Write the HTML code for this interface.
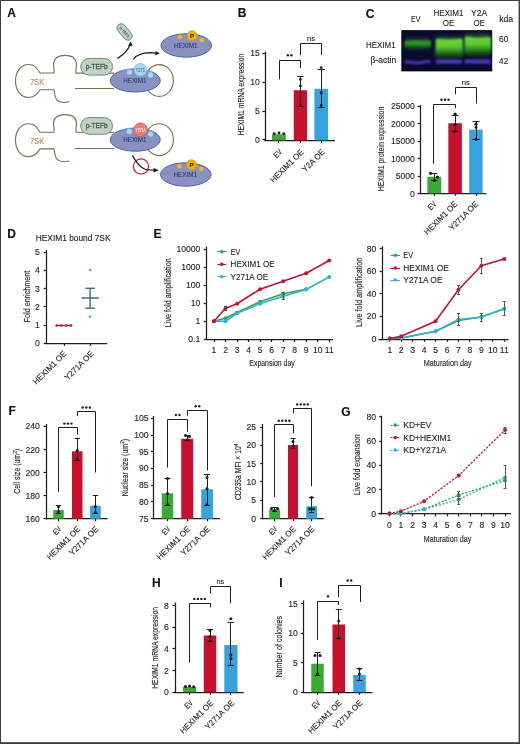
<!DOCTYPE html>
<html><head><meta charset="utf-8"><style>
html,body{margin:0;padding:0;background:#fff;}
svg{display:block;will-change:transform;}
text{font-family:"Liberation Sans", sans-serif;}
</style></head><body>
<svg width="520" height="744" viewBox="0 0 520 744">
<rect x="0" y="0" width="520" height="744" fill="#fff"/>
<rect x="0" y="0" width="520" height="1" fill="#3c3c3c"/>
<rect x="0" y="0" width="1" height="744" fill="#3c3c3c"/>
<rect x="518.6" y="0" width="1.4" height="744" fill="#3c3c3c"/>
<rect x="0" y="742.2" width="520" height="1.8" fill="#3c3c3c"/>
<text x="7.30" y="16.90" font-size="12.0" text-anchor="start" fill="#111" stroke="#111" stroke-width="0.12" font-weight="bold">A</text>
<path d="M40,73 C36,66 33,64.5 28.5,64.5 C20.5,64.5 15.5,72 15.5,81 C15.5,90 20.5,97.5 28.5,97.5 C33,97.5 36.5,95.5 40,89.7 L54,89.7 C55,93.5 54.5,98 57.5,100.5 C60.5,103 65,102.8 69.5,101.8" stroke="#7f6a55" stroke-width="1.1" fill="none"/>
<path d="M40,73 L54,73 C54.6,70 53.2,67 53.6,63 C54.4,57.5 59,55.4 65,55.4 C71,55.4 75.6,57.5 76.4,63 C76.8,67 75.4,70 76,73.1 L114,73.1" stroke="#7f6a55" stroke-width="1.1" fill="none"/>
<line x1="75.00" y1="88.50" x2="114.00" y2="88.50" stroke="#7f6a55" stroke-width="1.1"/>
<ellipse cx="159.20" cy="80.50" rx="14.20" ry="15.90" fill="none" stroke="#7f6a55" stroke-width="1.1"/>
<text x="29.90" y="84.90" font-size="8.6" text-anchor="start" fill="#c48a55" stroke="#c48a55" stroke-width="0.12" textLength="14.30" lengthAdjust="spacingAndGlyphs">7SK</text>
<rect x="80.70" y="58.40" width="31.80" height="16.70" fill="#c0d3c3" stroke="#6f8a78" stroke-width="1.0" rx="8.35"/>
<text x="96.70" y="68.90" font-size="7.2" text-anchor="middle" fill="#44544a" stroke="#44544a" stroke-width="0.28" textLength="22.00" lengthAdjust="spacingAndGlyphs">p-TEFb</text>
<ellipse cx="135.25" cy="80.50" rx="25.00" ry="11.55" fill="#8792c3" stroke="#56639d" stroke-width="1.0"/>
<path d="M121.50,70.90 Q135.25,66.00 153.00,72.30" stroke="#6ab4e4" stroke-width="1.1" fill="none" opacity="0.8"/>
<text x="134.90" y="82.70" font-size="6.4" text-anchor="middle" fill="#2c3262" stroke="#2c3262" stroke-width="0.06" textLength="23.40" lengthAdjust="spacingAndGlyphs">HEXIM1</text>
<circle cx="129.40" cy="72.20" r="2.60" fill="#a8d6f2" stroke="none" stroke-width="0"/>
<circle cx="150.60" cy="74.90" r="2.60" fill="#a8d6f2" stroke="none" stroke-width="0"/>
<circle cx="140.40" cy="69.80" r="6.30" fill="#a9d7f3" stroke="#74bde9" stroke-width="0.8"/>
<text x="140.40" y="71.50" font-size="4.8" text-anchor="middle" fill="#2f5f95" stroke="#2f5f95" stroke-width="0.05" textLength="9.40" lengthAdjust="spacingAndGlyphs">Y271</text>
<path d="M40,132.2 C36,125.2 33,123.7 28.5,123.7 C20.5,123.7 15.5,131.2 15.5,140.2 C15.5,149.2 20.5,156.7 28.5,156.7 C33,156.7 36.5,154.7 40,148.9 L54,148.9 C55,152.7 54.5,157.2 57.5,159.7 C60.5,162.2 65,162.0 69.5,161.0" stroke="#7f6a55" stroke-width="1.1" fill="none"/>
<path d="M40,132.2 L54,132.2 C54.6,129.2 53.2,126.2 53.6,122.2 C54.4,116.7 59,114.6 65,114.6 C71,114.6 75.6,116.7 76.4,122.2 C76.8,126.2 75.4,129.2 76,132.3 L114,132.3" stroke="#7f6a55" stroke-width="1.1" fill="none"/>
<line x1="75.00" y1="148.50" x2="114.00" y2="148.50" stroke="#7f6a55" stroke-width="1.1"/>
<ellipse cx="159.20" cy="139.70" rx="14.20" ry="15.90" fill="none" stroke="#7f6a55" stroke-width="1.1"/>
<text x="29.90" y="143.60" font-size="8.6" text-anchor="start" fill="#c48a55" stroke="#c48a55" stroke-width="0.12" textLength="14.30" lengthAdjust="spacingAndGlyphs">7SK</text>
<rect x="80.70" y="117.60" width="31.80" height="16.70" fill="#c0d3c3" stroke="#6f8a78" stroke-width="1.0" rx="8.35"/>
<text x="96.70" y="128.10" font-size="7.2" text-anchor="middle" fill="#44544a" stroke="#44544a" stroke-width="0.28" textLength="22.00" lengthAdjust="spacingAndGlyphs">p-TEFb</text>
<ellipse cx="135.25" cy="139.70" rx="25.00" ry="11.55" fill="#8792c3" stroke="#56639d" stroke-width="1.0"/>
<path d="M121.50,130.10 Q135.25,125.20 153.00,131.50" stroke="#6ab4e4" stroke-width="1.1" fill="none" opacity="0.8"/>
<text x="134.90" y="141.90" font-size="6.4" text-anchor="middle" fill="#2c3262" stroke="#2c3262" stroke-width="0.06" textLength="23.40" lengthAdjust="spacingAndGlyphs">HEXIM1</text>
<circle cx="129.40" cy="131.40" r="2.60" fill="#a8d6f2" stroke="none" stroke-width="0"/>
<circle cx="150.60" cy="134.10" r="2.60" fill="#a8d6f2" stroke="none" stroke-width="0"/>
<circle cx="140.60" cy="129.80" r="6.90" fill="#e97f72" stroke="#c85a50" stroke-width="0.8"/>
<text x="140.60" y="131.50" font-size="4.6" text-anchor="middle" fill="#ffe6e2" stroke="#ffe6e2" stroke-width="0.15" textLength="10.40" lengthAdjust="spacingAndGlyphs">Y271A</text>
<ellipse cx="186.30" cy="45.45" rx="25.30" ry="11.70" fill="#8792c3" stroke="#56639d" stroke-width="1.0"/>
<text x="185.70" y="47.70" font-size="6.4" text-anchor="middle" fill="#2c3262" stroke="#2c3262" stroke-width="0.06" textLength="23.60" lengthAdjust="spacingAndGlyphs">HEXIM1</text>
<circle cx="180.00" cy="37.20" r="2.40" fill="#f3b51a" stroke="none" stroke-width="0"/>
<circle cx="201.90" cy="40.10" r="2.40" fill="#f3b51a" stroke="none" stroke-width="0"/>
<circle cx="192.00" cy="35.80" r="5.00" fill="#f2b400" stroke="#d99b00" stroke-width="0.8"/>
<text x="192.00" y="38.05" font-size="6.2" text-anchor="middle" fill="#3a2a00" stroke="#3a2a00" stroke-width="0.12" font-weight="bold">P</text>
<ellipse cx="185.80" cy="174.45" rx="25.30" ry="11.70" fill="#8792c3" stroke="#56639d" stroke-width="1.0"/>
<text x="185.20" y="176.70" font-size="6.4" text-anchor="middle" fill="#2c3262" stroke="#2c3262" stroke-width="0.06" textLength="23.60" lengthAdjust="spacingAndGlyphs">HEXIM1</text>
<circle cx="179.50" cy="166.20" r="2.40" fill="#f3b51a" stroke="none" stroke-width="0"/>
<circle cx="201.40" cy="169.10" r="2.40" fill="#f3b51a" stroke="none" stroke-width="0"/>
<circle cx="191.50" cy="164.80" r="5.00" fill="#f2b400" stroke="#d99b00" stroke-width="0.8"/>
<text x="191.50" y="167.05" font-size="6.2" text-anchor="middle" fill="#3a2a00" stroke="#3a2a00" stroke-width="0.12" font-weight="bold">P</text>
<g transform="translate(124.6 32.0) rotate(50)"><rect x="-9.4" y="-4.3" width="18.8" height="8.6" rx="4.3" fill="#c0d3c3" stroke="#62806c" stroke-width="0.9"/><text x="0" y="1.5" font-size="4.2" text-anchor="middle" fill="#3f4f45" font-weight="bold" textLength="13" lengthAdjust="spacingAndGlyphs">p-TEFb</text></g>
<path d="M117.3,58.4 C122,55.5 127.5,52 129.6,45.5" stroke="#1a1a1a" stroke-width="1.2" fill="none"/>
<polygon points="130.8,41.6 128.0,45.8 132.6,46.0" fill="#1a1a1a"/>
<path d="M133.2,59.3 C136,55.5 141,53 150,52.7 L156,53.1" stroke="#1a1a1a" stroke-width="1.2" fill="none"/>
<polygon points="159.8,53.3 155.4,51.0 155.4,55.4" fill="#1a1a1a"/>
<circle cx="141.00" cy="166.50" r="7.60" fill="none" stroke="#c8243c" stroke-width="1.3"/>
<path d="M132.3,155.4 C135.5,161 139,166 143.5,168.6 C145.5,169.8 147.5,170.2 154,170.2" stroke="#1a1a1a" stroke-width="1.2" fill="none"/>
<polygon points="158.8,170.2 153.6,167.9 153.6,172.6" fill="#1a1a1a"/>
<text x="237.80" y="17.20" font-size="12.0" text-anchor="start" fill="#111" stroke="#111" stroke-width="0.12" font-weight="bold">B</text>
<line x1="265.50" y1="51.50" x2="265.50" y2="140.93" stroke="#1e1e1e" stroke-width="1.25"/>
<line x1="262.40" y1="53.50" x2="265.00" y2="53.50" stroke="#1e1e1e" stroke-width="1.25"/>
<text x="259.90" y="56.25" font-size="8.6" text-anchor="end" fill="#1e1e1e" stroke="#1e1e1e" stroke-width="0.12">15</text>
<line x1="262.40" y1="82.50" x2="265.00" y2="82.50" stroke="#1e1e1e" stroke-width="1.25"/>
<text x="259.90" y="85.15" font-size="8.6" text-anchor="end" fill="#1e1e1e" stroke="#1e1e1e" stroke-width="0.12">10</text>
<line x1="262.40" y1="111.50" x2="265.00" y2="111.50" stroke="#1e1e1e" stroke-width="1.25"/>
<text x="259.90" y="114.05" font-size="8.6" text-anchor="end" fill="#1e1e1e" stroke="#1e1e1e" stroke-width="0.12">5</text>
<line x1="262.40" y1="139.50" x2="265.00" y2="139.50" stroke="#1e1e1e" stroke-width="1.25"/>
<text x="259.90" y="142.95" font-size="8.6" text-anchor="end" fill="#1e1e1e" stroke="#1e1e1e" stroke-width="0.12">0</text>
<line x1="264.38" y1="140.50" x2="335.00" y2="140.50" stroke="#1e1e1e" stroke-width="1.25"/>
<line x1="278.50" y1="140.30" x2="278.50" y2="142.90" stroke="#1e1e1e" stroke-width="1.25"/>
<line x1="300.50" y1="140.30" x2="300.50" y2="142.90" stroke="#1e1e1e" stroke-width="1.25"/>
<line x1="321.50" y1="140.30" x2="321.50" y2="142.90" stroke="#1e1e1e" stroke-width="1.25"/>
<rect x="272.00" y="134.20" width="13.80" height="6.10" fill="#3aa935" stroke="none" stroke-width="0" rx="0"/>
<rect x="293.75" y="90.20" width="13.30" height="50.10" fill="#c8102e" stroke="none" stroke-width="0" rx="0"/>
<rect x="314.40" y="88.80" width="13.60" height="51.50" fill="#35a3dc" stroke="none" stroke-width="0" rx="0"/>
<circle cx="274.20" cy="133.60" r="1.40" fill="#1e1e1e" stroke="none" stroke-width="0"/>
<circle cx="279.00" cy="132.90" r="1.40" fill="#1e1e1e" stroke="none" stroke-width="0"/>
<circle cx="283.80" cy="133.60" r="1.40" fill="#1e1e1e" stroke="none" stroke-width="0"/>
<line x1="300.50" y1="76.70" x2="300.50" y2="106.30" stroke="#1e1e1e" stroke-width="1.0"/>
<line x1="297.30" y1="76.50" x2="303.50" y2="76.50" stroke="#1e1e1e" stroke-width="1.0"/>
<line x1="297.30" y1="106.50" x2="303.50" y2="106.50" stroke="#1e1e1e" stroke-width="1.0"/>
<circle cx="300.40" cy="79.40" r="1.40" fill="#1e1e1e" stroke="none" stroke-width="0"/>
<circle cx="300.40" cy="85.90" r="1.40" fill="#1e1e1e" stroke="none" stroke-width="0"/>
<circle cx="300.40" cy="105.50" r="1.40" fill="#1e1e1e" stroke="none" stroke-width="0"/>
<line x1="321.50" y1="69.30" x2="321.50" y2="107.70" stroke="#1e1e1e" stroke-width="1.0"/>
<line x1="317.45" y1="69.50" x2="324.95" y2="69.50" stroke="#1e1e1e" stroke-width="1.0"/>
<line x1="317.45" y1="107.50" x2="324.95" y2="107.50" stroke="#1e1e1e" stroke-width="1.0"/>
<circle cx="321.20" cy="67.60" r="1.40" fill="#1e1e1e" stroke="none" stroke-width="0"/>
<circle cx="321.20" cy="92.90" r="1.40" fill="#1e1e1e" stroke="none" stroke-width="0"/>
<circle cx="321.20" cy="105.50" r="1.40" fill="#1e1e1e" stroke="none" stroke-width="0"/>
<path d="M279.50,79.40 L279.50,60.50 L300.50,60.50 L300.50,68.00" stroke="#1e1e1e" stroke-width="1.0" fill="none"/>
<path d="M300.50,55.20 L300.50,43.50 L321.50,43.50 L321.50,55.20" stroke="#1e1e1e" stroke-width="1.0" fill="none"/>
<circle cx="287.83" cy="55.30" r="1.22" fill="#222"/>
<circle cx="291.38" cy="55.30" r="1.22" fill="#222"/>
<text x="311.00" y="41.10" font-size="7.8" text-anchor="middle" fill="#1e1e1e" stroke="#1e1e1e" stroke-width="0.12" textLength="8.10" lengthAdjust="spacingAndGlyphs">ns</text>
<text x="244.40" y="94.60" font-size="8.4" text-anchor="middle" fill="#1e1e1e" stroke="#1e1e1e" stroke-width="0.12" textLength="81.80" lengthAdjust="spacingAndGlyphs" transform="rotate(-90 244.40 94.60)">HEXIM1 mRNA expression</text>
<text x="282.60" y="152.60" font-size="8.2" text-anchor="end" fill="#1e1e1e" stroke="#1e1e1e" stroke-width="0.12" textLength="8.20" lengthAdjust="spacingAndGlyphs" transform="rotate(-45 282.60 152.60)">EV</text>
<text x="304.20" y="152.60" font-size="8.2" text-anchor="end" fill="#1e1e1e" stroke="#1e1e1e" stroke-width="0.12" textLength="43.50" lengthAdjust="spacingAndGlyphs" transform="rotate(-45 304.20 152.60)">HEXIM1 OE</text>
<text x="325.30" y="152.60" font-size="8.2" text-anchor="end" fill="#1e1e1e" stroke="#1e1e1e" stroke-width="0.12" textLength="28.20" lengthAdjust="spacingAndGlyphs" transform="rotate(-45 325.30 152.60)">Y2A OE</text>
<text x="365.80" y="17.60" font-size="12.0" text-anchor="start" fill="#111" stroke="#111" stroke-width="0.12" font-weight="bold">C</text>
<text x="415.70" y="21.90" font-size="9.0" text-anchor="middle" fill="#1e1e1e" stroke="#1e1e1e" stroke-width="0.12" textLength="9.20" lengthAdjust="spacingAndGlyphs">EV</text>
<text x="448.50" y="16.20" font-size="8.9" text-anchor="middle" fill="#1e1e1e" stroke="#1e1e1e" stroke-width="0.12" textLength="30.00" lengthAdjust="spacingAndGlyphs">HEXIM1</text>
<text x="448.45" y="25.80" font-size="8.9" text-anchor="middle" fill="#1e1e1e" stroke="#1e1e1e" stroke-width="0.12" textLength="11.50" lengthAdjust="spacingAndGlyphs">OE</text>
<text x="479.15" y="16.20" font-size="8.9" text-anchor="middle" fill="#1e1e1e" stroke="#1e1e1e" stroke-width="0.12" textLength="16.10" lengthAdjust="spacingAndGlyphs">Y2A</text>
<text x="479.15" y="25.80" font-size="8.9" text-anchor="middle" fill="#1e1e1e" stroke="#1e1e1e" stroke-width="0.12" textLength="11.50" lengthAdjust="spacingAndGlyphs">OE</text>
<text x="506.15" y="21.90" font-size="8.9" text-anchor="middle" fill="#1e1e1e" stroke="#1e1e1e" stroke-width="0.12" textLength="13.90" lengthAdjust="spacingAndGlyphs">kda</text>
<text x="395.60" y="47.80" font-size="8.5" text-anchor="end" fill="#1e1e1e" stroke="#1e1e1e" stroke-width="0.12" textLength="29.60" lengthAdjust="spacingAndGlyphs">HEXIM1</text>
<text x="396.10" y="62.50" font-size="8.6" text-anchor="end" fill="#1e1e1e" stroke="#1e1e1e" stroke-width="0.12" textLength="25.60" lengthAdjust="spacingAndGlyphs">β-actin</text>
<text x="503.70" y="41.80" font-size="8.6" text-anchor="middle" fill="#1e1e1e" stroke="#1e1e1e" stroke-width="0.12" textLength="9.20" lengthAdjust="spacingAndGlyphs">60</text>
<text x="503.70" y="63.70" font-size="8.6" text-anchor="middle" fill="#1e1e1e" stroke="#1e1e1e" stroke-width="0.12" textLength="9.20" lengthAdjust="spacingAndGlyphs">42</text>
<defs>
<filter id="blur1" x="-30%" y="-60%" width="160%" height="220%"><feGaussianBlur stdDeviation="1.1"/></filter>
<filter id="blur3" x="-30%" y="-80%" width="160%" height="260%"><feGaussianBlur stdDeviation="2.2"/></filter>
<filter id="blur2" x="-20%" y="-80%" width="140%" height="260%"><feGaussianBlur stdDeviation="0.8"/></filter>
<linearGradient id="gOE" x1="0" y1="0" x2="0" y2="1">
<stop offset="0" stop-color="#6cd840"/><stop offset="0.45" stop-color="#5cc632"/><stop offset="0.72" stop-color="#2f8a1e"/><stop offset="1" stop-color="#0e2a10"/></linearGradient>
<linearGradient id="gEV" x1="0" y1="0" x2="0" y2="1">
<stop offset="0" stop-color="#3c9e34"/><stop offset="0.55" stop-color="#2b8a2a"/><stop offset="1" stop-color="#123e16"/></linearGradient>
</defs>
<rect x="401.60" y="30.10" width="90.60" height="41.10" fill="#0a0a2e" stroke="none" stroke-width="0" rx="0"/>
<rect x="401.60" y="70.20" width="90.60" height="1.00" fill="#020208" stroke="none" stroke-width="0" rx="0"/>
<rect x="401.60" y="30.10" width="0.90" height="41.10" fill="#020208" stroke="none" stroke-width="0" rx="0"/>
<g filter="url(#blur3)" opacity="0.55">
<rect x="405.50" y="38.50" width="24.50" height="10.50" fill="#2a7a22" stroke="none" stroke-width="0" rx="0"/>
<rect x="436.00" y="37.00" width="26.50" height="20.00" fill="#3c9a28" stroke="none" stroke-width="0" rx="0"/>
<rect x="465.00" y="34.50" width="25.50" height="20.00" fill="#3c9a28" stroke="none" stroke-width="0" rx="0"/>
</g>
<g filter="url(#blur1)">
<path d="M404.8,41.0 C412,39.8 422,40.8 430.6,40.8 L430.6,47.6 C422,48.2 412,47.6 404.8,47.2 Z" stroke="none" stroke-width="0" fill="url(#gEV)"/>
<path d="M435.9,40.0 Q435.9,38.8 437.6,38.8 C443,39.6 455,39.6 460.8,38.8 Q462.6,38.8 462.6,40.0 L462.6,56.4 L435.9,56.4 Z" stroke="none" stroke-width="0" fill="url(#gOE)"/>
<path d="M464.9,37.6 Q464.9,36.2 466.6,36.4 C472,38.0 484,38.0 489.0,37.0 Q490.8,37.0 490.8,38.6 L490.8,54.6 L464.9,54.6 Z" stroke="none" stroke-width="0" fill="url(#gOE)"/>
</g>
<g filter="url(#blur2)">
<path d="M404.8,60.3 C410,59.8 414,61.8 419,61.6 C423,61.4 426,59.2 430.6,60.4 L430.6,63.0 C426,62.2 423,64.2 418,64.2 C413,64.2 409,62.8 404.8,63.4 Z" stroke="none" stroke-width="0" fill="#4c3cc0"/>
<rect x="436.00" y="59.70" width="26.20" height="3.80" fill="#4c3cc0" stroke="none" stroke-width="0" rx="1.2"/>
<rect x="464.50" y="59.60" width="26.00" height="3.80" fill="#4c3cc0" stroke="none" stroke-width="0" rx="1.2"/>
</g>
<line x1="420.50" y1="105.00" x2="420.50" y2="193.93" stroke="#1e1e1e" stroke-width="1.25"/>
<line x1="417.60" y1="106.50" x2="420.20" y2="106.50" stroke="#1e1e1e" stroke-width="1.25"/>
<text x="414.90" y="109.13" font-size="8.6" text-anchor="end" fill="#1e1e1e" stroke="#1e1e1e" stroke-width="0.12">25000</text>
<line x1="417.60" y1="123.50" x2="420.20" y2="123.50" stroke="#1e1e1e" stroke-width="1.25"/>
<text x="414.90" y="126.61" font-size="8.6" text-anchor="end" fill="#1e1e1e" stroke="#1e1e1e" stroke-width="0.12">20000</text>
<line x1="417.60" y1="141.50" x2="420.20" y2="141.50" stroke="#1e1e1e" stroke-width="1.25"/>
<text x="414.90" y="144.10" font-size="8.6" text-anchor="end" fill="#1e1e1e" stroke="#1e1e1e" stroke-width="0.12">15000</text>
<line x1="417.60" y1="158.50" x2="420.20" y2="158.50" stroke="#1e1e1e" stroke-width="1.25"/>
<text x="414.90" y="161.58" font-size="8.6" text-anchor="end" fill="#1e1e1e" stroke="#1e1e1e" stroke-width="0.12">10000</text>
<line x1="417.60" y1="176.50" x2="420.20" y2="176.50" stroke="#1e1e1e" stroke-width="1.25"/>
<text x="414.90" y="179.07" font-size="8.6" text-anchor="end" fill="#1e1e1e" stroke="#1e1e1e" stroke-width="0.12">5000</text>
<line x1="417.60" y1="193.50" x2="420.20" y2="193.50" stroke="#1e1e1e" stroke-width="1.25"/>
<text x="414.90" y="196.55" font-size="8.6" text-anchor="end" fill="#1e1e1e" stroke="#1e1e1e" stroke-width="0.12">0</text>
<line x1="419.57" y1="193.50" x2="486.30" y2="193.50" stroke="#1e1e1e" stroke-width="1.25"/>
<line x1="434.50" y1="193.30" x2="434.50" y2="195.90" stroke="#1e1e1e" stroke-width="1.25"/>
<line x1="455.50" y1="193.30" x2="455.50" y2="195.90" stroke="#1e1e1e" stroke-width="1.25"/>
<line x1="476.50" y1="193.30" x2="476.50" y2="195.90" stroke="#1e1e1e" stroke-width="1.25"/>
<rect x="427.35" y="176.80" width="13.90" height="16.50" fill="#3aa935" stroke="none" stroke-width="0" rx="0"/>
<rect x="448.35" y="123.20" width="13.50" height="70.10" fill="#c8102e" stroke="none" stroke-width="0" rx="0"/>
<rect x="469.20" y="129.60" width="13.40" height="63.70" fill="#35a3dc" stroke="none" stroke-width="0" rx="0"/>
<line x1="434.50" y1="173.50" x2="434.50" y2="180.90" stroke="#1e1e1e" stroke-width="1.0"/>
<line x1="431.20" y1="173.50" x2="437.40" y2="173.50" stroke="#1e1e1e" stroke-width="1.0"/>
<line x1="431.20" y1="180.50" x2="437.40" y2="180.50" stroke="#1e1e1e" stroke-width="1.0"/>
<circle cx="430.50" cy="173.30" r="1.60" fill="#1e1e1e" stroke="none" stroke-width="0"/>
<circle cx="437.50" cy="177.10" r="1.60" fill="#1e1e1e" stroke="none" stroke-width="0"/>
<circle cx="434.30" cy="180.50" r="1.60" fill="#1e1e1e" stroke="none" stroke-width="0"/>
<line x1="455.50" y1="115.20" x2="455.50" y2="131.10" stroke="#1e1e1e" stroke-width="1.0"/>
<line x1="451.60" y1="115.50" x2="458.60" y2="115.50" stroke="#1e1e1e" stroke-width="1.0"/>
<line x1="451.60" y1="131.50" x2="458.60" y2="131.50" stroke="#1e1e1e" stroke-width="1.0"/>
<circle cx="455.10" cy="114.20" r="1.60" fill="#1e1e1e" stroke="none" stroke-width="0"/>
<circle cx="455.10" cy="124.70" r="1.60" fill="#1e1e1e" stroke="none" stroke-width="0"/>
<circle cx="455.10" cy="131.10" r="1.60" fill="#1e1e1e" stroke="none" stroke-width="0"/>
<line x1="476.50" y1="121.30" x2="476.50" y2="139.20" stroke="#1e1e1e" stroke-width="1.0"/>
<line x1="472.40" y1="121.50" x2="479.60" y2="121.50" stroke="#1e1e1e" stroke-width="1.0"/>
<line x1="472.40" y1="139.50" x2="479.60" y2="139.50" stroke="#1e1e1e" stroke-width="1.0"/>
<circle cx="476.00" cy="124.20" r="1.60" fill="#1e1e1e" stroke="none" stroke-width="0"/>
<circle cx="476.00" cy="127.40" r="1.30" fill="#1e1e1e" stroke="none" stroke-width="0"/>
<circle cx="476.00" cy="139.20" r="1.60" fill="#1e1e1e" stroke="none" stroke-width="0"/>
<path d="M433.50,163.60 L433.50,104.50 L455.50,104.50 L455.50,108.20" stroke="#1e1e1e" stroke-width="1.0" fill="none"/>
<path d="M455.50,94.20 L455.50,87.50 L476.50,87.50 L476.50,103.60" stroke="#1e1e1e" stroke-width="1.0" fill="none"/>
<circle cx="441.45" cy="99.70" r="1.22" fill="#222"/>
<circle cx="445.00" cy="99.70" r="1.22" fill="#222"/>
<circle cx="448.55" cy="99.70" r="1.22" fill="#222"/>
<text x="465.75" y="85.20" font-size="7.8" text-anchor="middle" fill="#1e1e1e" stroke="#1e1e1e" stroke-width="0.12" textLength="8.10" lengthAdjust="spacingAndGlyphs">ns</text>
<text x="384.30" y="149.00" font-size="8.4" text-anchor="middle" fill="#1e1e1e" stroke="#1e1e1e" stroke-width="0.12" textLength="84.70" lengthAdjust="spacingAndGlyphs" transform="rotate(-90 384.30 149.00)">HEXIM1 protein expression</text>
<text x="436.90" y="204.60" font-size="8.2" text-anchor="end" fill="#1e1e1e" stroke="#1e1e1e" stroke-width="0.12" textLength="8.20" lengthAdjust="spacingAndGlyphs" transform="rotate(-45 436.90 204.60)">EV</text>
<text x="458.10" y="204.60" font-size="8.2" text-anchor="end" fill="#1e1e1e" stroke="#1e1e1e" stroke-width="0.12" textLength="43.50" lengthAdjust="spacingAndGlyphs" transform="rotate(-45 458.10 204.60)">HEXIM1 OE</text>
<text x="478.80" y="204.60" font-size="8.2" text-anchor="end" fill="#1e1e1e" stroke="#1e1e1e" stroke-width="0.12" textLength="37.50" lengthAdjust="spacingAndGlyphs" transform="rotate(-45 478.80 204.60)">Y271A OE</text>
<text x="7.20" y="238.20" font-size="12.0" text-anchor="start" fill="#111" stroke="#111" stroke-width="0.12" font-weight="bold">D</text>
<text x="35.75" y="241.30" font-size="8.5" text-anchor="start" fill="#1e1e1e" stroke="#1e1e1e" stroke-width="0.12" textLength="74.75" lengthAdjust="spacingAndGlyphs">HEXIM1 bound 7SK</text>
<line x1="46.50" y1="250.20" x2="46.50" y2="343.93" stroke="#1e1e1e" stroke-width="1.25"/>
<line x1="43.70" y1="343.50" x2="46.30" y2="343.50" stroke="#1e1e1e" stroke-width="1.25"/>
<text x="39.90" y="346.35" font-size="8.6" text-anchor="end" fill="#1e1e1e" stroke="#1e1e1e" stroke-width="0.12">0</text>
<line x1="43.70" y1="325.50" x2="46.30" y2="325.50" stroke="#1e1e1e" stroke-width="1.25"/>
<text x="39.90" y="328.10" font-size="8.6" text-anchor="end" fill="#1e1e1e" stroke="#1e1e1e" stroke-width="0.12">1</text>
<line x1="43.70" y1="306.50" x2="46.30" y2="306.50" stroke="#1e1e1e" stroke-width="1.25"/>
<text x="39.90" y="309.85" font-size="8.6" text-anchor="end" fill="#1e1e1e" stroke="#1e1e1e" stroke-width="0.12">2</text>
<line x1="43.70" y1="288.50" x2="46.30" y2="288.50" stroke="#1e1e1e" stroke-width="1.25"/>
<text x="39.90" y="291.60" font-size="8.6" text-anchor="end" fill="#1e1e1e" stroke="#1e1e1e" stroke-width="0.12">3</text>
<line x1="43.70" y1="270.50" x2="46.30" y2="270.50" stroke="#1e1e1e" stroke-width="1.25"/>
<text x="39.90" y="273.35" font-size="8.6" text-anchor="end" fill="#1e1e1e" stroke="#1e1e1e" stroke-width="0.12">4</text>
<line x1="43.70" y1="252.50" x2="46.30" y2="252.50" stroke="#1e1e1e" stroke-width="1.25"/>
<text x="39.90" y="255.10" font-size="8.6" text-anchor="end" fill="#1e1e1e" stroke="#1e1e1e" stroke-width="0.12">5</text>
<line x1="45.67" y1="343.50" x2="107.30" y2="343.50" stroke="#1e1e1e" stroke-width="1.25"/>
<line x1="64.50" y1="343.30" x2="64.50" y2="345.90" stroke="#1e1e1e" stroke-width="1.25"/>
<line x1="90.50" y1="343.30" x2="90.50" y2="345.90" stroke="#1e1e1e" stroke-width="1.25"/>
<line x1="55.50" y1="325.50" x2="72.30" y2="325.50" stroke="#b2203a" stroke-width="1.4"/>
<circle cx="56.80" cy="325.50" r="1.30" fill="#b2203a" stroke="none" stroke-width="0"/>
<circle cx="61.30" cy="325.50" r="1.30" fill="#b2203a" stroke="none" stroke-width="0"/>
<circle cx="66.20" cy="325.50" r="1.30" fill="#b2203a" stroke="none" stroke-width="0"/>
<circle cx="71.00" cy="325.50" r="1.30" fill="#b2203a" stroke="none" stroke-width="0"/>
<circle cx="90.10" cy="270.10" r="1.30" fill="#3cb2d6" stroke="none" stroke-width="0"/>
<circle cx="90.10" cy="316.50" r="1.30" fill="#3cb2d6" stroke="none" stroke-width="0"/>
<line x1="81.50" y1="298.00" x2="98.80" y2="298.00" stroke="#3f6b7a" stroke-width="1.5"/>
<line x1="90.10" y1="288.30" x2="90.10" y2="308.20" stroke="#3f6b7a" stroke-width="1.4"/>
<line x1="85.40" y1="288.30" x2="94.80" y2="288.30" stroke="#3f6b7a" stroke-width="1.4"/>
<line x1="85.40" y1="308.20" x2="94.80" y2="308.20" stroke="#3f6b7a" stroke-width="1.4"/>
<g stroke="#3f6b7a">
</g>
<text x="29.70" y="296.50" font-size="8.5" text-anchor="middle" fill="#1e1e1e" stroke="#1e1e1e" stroke-width="0.12" textLength="51.70" lengthAdjust="spacingAndGlyphs" transform="rotate(-90 29.70 296.50)">Fold enrichment</text>
<text x="67.00" y="354.30" font-size="8.2" text-anchor="end" fill="#1e1e1e" stroke="#1e1e1e" stroke-width="0.12" textLength="43.50" lengthAdjust="spacingAndGlyphs" transform="rotate(-45 67.00 354.30)">HEXIM1 OE</text>
<text x="94.30" y="354.30" font-size="8.2" text-anchor="end" fill="#1e1e1e" stroke="#1e1e1e" stroke-width="0.12" textLength="37.50" lengthAdjust="spacingAndGlyphs" transform="rotate(-45 94.30 354.30)">Y271A OE</text>
<text x="153.60" y="238.20" font-size="12.0" text-anchor="start" fill="#111" stroke="#111" stroke-width="0.12" font-weight="bold">E</text>
<line x1="206.50" y1="246.50" x2="206.50" y2="339.93" stroke="#1e1e1e" stroke-width="1.25"/>
<line x1="203.70" y1="249.50" x2="206.30" y2="249.50" stroke="#1e1e1e" stroke-width="1.25"/>
<text x="200.30" y="252.05" font-size="8.6" text-anchor="end" fill="#1e1e1e" stroke="#1e1e1e" stroke-width="0.12">10000</text>
<line x1="203.70" y1="267.50" x2="206.30" y2="267.50" stroke="#1e1e1e" stroke-width="1.25"/>
<text x="200.30" y="270.05" font-size="8.6" text-anchor="end" fill="#1e1e1e" stroke="#1e1e1e" stroke-width="0.12">1000</text>
<line x1="203.70" y1="285.50" x2="206.30" y2="285.50" stroke="#1e1e1e" stroke-width="1.25"/>
<text x="200.30" y="288.05" font-size="8.6" text-anchor="end" fill="#1e1e1e" stroke="#1e1e1e" stroke-width="0.12">100</text>
<line x1="203.70" y1="303.50" x2="206.30" y2="303.50" stroke="#1e1e1e" stroke-width="1.25"/>
<text x="200.30" y="306.05" font-size="8.6" text-anchor="end" fill="#1e1e1e" stroke="#1e1e1e" stroke-width="0.12">10</text>
<line x1="203.70" y1="321.50" x2="206.30" y2="321.50" stroke="#1e1e1e" stroke-width="1.25"/>
<text x="200.30" y="324.05" font-size="8.6" text-anchor="end" fill="#1e1e1e" stroke="#1e1e1e" stroke-width="0.12">1</text>
<line x1="203.70" y1="339.50" x2="206.30" y2="339.50" stroke="#1e1e1e" stroke-width="1.25"/>
<text x="200.30" y="342.05" font-size="8.6" text-anchor="end" fill="#1e1e1e" stroke="#1e1e1e" stroke-width="0.12">0.1</text>
<line x1="205.68" y1="339.50" x2="333.00" y2="339.50" stroke="#1e1e1e" stroke-width="1.25"/>
<line x1="214.50" y1="339.30" x2="214.50" y2="341.90" stroke="#1e1e1e" stroke-width="1.25"/>
<line x1="225.50" y1="339.30" x2="225.50" y2="341.90" stroke="#1e1e1e" stroke-width="1.25"/>
<line x1="237.50" y1="339.30" x2="237.50" y2="341.90" stroke="#1e1e1e" stroke-width="1.25"/>
<line x1="248.50" y1="339.30" x2="248.50" y2="341.90" stroke="#1e1e1e" stroke-width="1.25"/>
<line x1="260.50" y1="339.30" x2="260.50" y2="341.90" stroke="#1e1e1e" stroke-width="1.25"/>
<line x1="271.50" y1="339.30" x2="271.50" y2="341.90" stroke="#1e1e1e" stroke-width="1.25"/>
<line x1="283.50" y1="339.30" x2="283.50" y2="341.90" stroke="#1e1e1e" stroke-width="1.25"/>
<line x1="294.50" y1="339.30" x2="294.50" y2="341.90" stroke="#1e1e1e" stroke-width="1.25"/>
<line x1="306.50" y1="339.30" x2="306.50" y2="341.90" stroke="#1e1e1e" stroke-width="1.25"/>
<line x1="317.50" y1="339.30" x2="317.50" y2="341.90" stroke="#1e1e1e" stroke-width="1.25"/>
<line x1="329.50" y1="339.30" x2="329.50" y2="341.90" stroke="#1e1e1e" stroke-width="1.25"/>
<text x="214.00" y="352.90" font-size="8.6" text-anchor="middle" fill="#1e1e1e" stroke="#1e1e1e" stroke-width="0.12">1</text>
<text x="225.52" y="352.90" font-size="8.6" text-anchor="middle" fill="#1e1e1e" stroke="#1e1e1e" stroke-width="0.12">2</text>
<text x="237.04" y="352.90" font-size="8.6" text-anchor="middle" fill="#1e1e1e" stroke="#1e1e1e" stroke-width="0.12">3</text>
<text x="248.56" y="352.90" font-size="8.6" text-anchor="middle" fill="#1e1e1e" stroke="#1e1e1e" stroke-width="0.12">4</text>
<text x="260.08" y="352.90" font-size="8.6" text-anchor="middle" fill="#1e1e1e" stroke="#1e1e1e" stroke-width="0.12">5</text>
<text x="271.60" y="352.90" font-size="8.6" text-anchor="middle" fill="#1e1e1e" stroke="#1e1e1e" stroke-width="0.12">6</text>
<text x="283.12" y="352.90" font-size="8.6" text-anchor="middle" fill="#1e1e1e" stroke="#1e1e1e" stroke-width="0.12">7</text>
<text x="294.64" y="352.90" font-size="8.6" text-anchor="middle" fill="#1e1e1e" stroke="#1e1e1e" stroke-width="0.12">8</text>
<text x="306.16" y="352.90" font-size="8.6" text-anchor="middle" fill="#1e1e1e" stroke="#1e1e1e" stroke-width="0.12">9</text>
<text x="317.68" y="352.90" font-size="8.6" text-anchor="middle" fill="#1e1e1e" stroke="#1e1e1e" stroke-width="0.12">10</text>
<text x="329.20" y="352.90" font-size="8.6" text-anchor="middle" fill="#1e1e1e" stroke="#1e1e1e" stroke-width="0.12">11</text>
<text x="272.05" y="366.30" font-size="9.6" text-anchor="middle" fill="#1e1e1e" stroke="#1e1e1e" stroke-width="0.12" textLength="45.50" lengthAdjust="spacingAndGlyphs">Expansion day</text>
<text x="171.50" y="292.70" font-size="8.6" text-anchor="middle" fill="#1e1e1e" stroke="#1e1e1e" stroke-width="0.12" textLength="68.90" lengthAdjust="spacingAndGlyphs" transform="rotate(-90 171.50 292.70)">Live fold amplification</text>
<path d="M214.00,321.25 L225.52,318.25 L237.04,312.50 L260.08,301.75 L283.12,293.75 L306.16,289.25" stroke="#34a24c" stroke-width="1.6" fill="none" stroke-linejoin="round"/>
<circle cx="214.00" cy="321.25" r="2.00" fill="#34a24c" stroke="none" stroke-width="0"/>
<circle cx="225.52" cy="318.25" r="2.00" fill="#34a24c" stroke="none" stroke-width="0"/>
<circle cx="237.04" cy="312.50" r="2.00" fill="#34a24c" stroke="none" stroke-width="0"/>
<circle cx="260.08" cy="301.75" r="2.00" fill="#34a24c" stroke="none" stroke-width="0"/>
<circle cx="283.12" cy="293.75" r="2.00" fill="#34a24c" stroke="none" stroke-width="0"/>
<circle cx="306.16" cy="289.25" r="2.00" fill="#34a24c" stroke="none" stroke-width="0"/>
<path d="M214.00,321.25 L225.52,321.25 L237.04,313.25 L260.08,303.75 L283.12,296.25 L306.16,289.50 L329.20,277.00" stroke="#33b0d4" stroke-width="1.6" fill="none" stroke-linejoin="round"/>
<circle cx="214.00" cy="321.25" r="2.00" fill="#33b0d4" stroke="none" stroke-width="0"/>
<circle cx="225.52" cy="321.25" r="2.00" fill="#33b0d4" stroke="none" stroke-width="0"/>
<circle cx="237.04" cy="313.25" r="2.00" fill="#33b0d4" stroke="none" stroke-width="0"/>
<circle cx="260.08" cy="303.75" r="2.00" fill="#33b0d4" stroke="none" stroke-width="0"/>
<circle cx="283.12" cy="296.25" r="2.00" fill="#33b0d4" stroke="none" stroke-width="0"/>
<circle cx="306.16" cy="289.50" r="2.00" fill="#33b0d4" stroke="none" stroke-width="0"/>
<circle cx="329.20" cy="277.00" r="2.00" fill="#33b0d4" stroke="none" stroke-width="0"/>
<path d="M214.00,321.25 L225.52,308.25 L237.04,303.75 L260.08,289.25 L283.12,281.25 L306.16,273.25 L329.20,260.50" stroke="#c0142f" stroke-width="1.6" fill="none" stroke-linejoin="round"/>
<circle cx="214.00" cy="321.25" r="2.00" fill="#c0142f" stroke="none" stroke-width="0"/>
<circle cx="225.52" cy="308.25" r="2.00" fill="#c0142f" stroke="none" stroke-width="0"/>
<circle cx="237.04" cy="303.75" r="2.00" fill="#c0142f" stroke="none" stroke-width="0"/>
<circle cx="260.08" cy="289.25" r="2.00" fill="#c0142f" stroke="none" stroke-width="0"/>
<circle cx="283.12" cy="281.25" r="2.00" fill="#c0142f" stroke="none" stroke-width="0"/>
<circle cx="306.16" cy="273.25" r="2.00" fill="#c0142f" stroke="none" stroke-width="0"/>
<circle cx="329.20" cy="260.50" r="2.00" fill="#c0142f" stroke="none" stroke-width="0"/>
<line x1="283.50" y1="292.50" x2="283.50" y2="299.50" stroke="#555" stroke-width="1.0"/>
<line x1="281.62" y1="292.50" x2="284.62" y2="292.50" stroke="#555" stroke-width="1.0"/>
<line x1="281.62" y1="299.50" x2="284.62" y2="299.50" stroke="#555" stroke-width="1.0"/>
<line x1="225.50" y1="306.50" x2="225.50" y2="310.00" stroke="#555" stroke-width="1.0"/>
<line x1="224.02" y1="306.50" x2="227.02" y2="306.50" stroke="#555" stroke-width="1.0"/>
<line x1="224.02" y1="310.50" x2="227.02" y2="310.50" stroke="#555" stroke-width="1.0"/>
<line x1="217.20" y1="251.50" x2="226.60" y2="251.50" stroke="#34a24c" stroke-width="1.1"/>
<circle cx="221.90" cy="251.80" r="1.80" fill="#34a24c" stroke="none" stroke-width="0"/>
<text x="230.80" y="254.90" font-size="8.6" text-anchor="start" fill="#1e1e1e" stroke="#1e1e1e" stroke-width="0.12" textLength="9.60" lengthAdjust="spacingAndGlyphs">EV</text>
<line x1="217.40" y1="264.50" x2="226.10" y2="264.50" stroke="#c0142f" stroke-width="1.1"/>
<circle cx="221.75" cy="264.20" r="1.80" fill="#c0142f" stroke="none" stroke-width="0"/>
<text x="230.60" y="267.30" font-size="8.6" text-anchor="start" fill="#1e1e1e" stroke="#1e1e1e" stroke-width="0.12" textLength="44.00" lengthAdjust="spacingAndGlyphs">HEXIM1 OE</text>
<line x1="217.40" y1="276.50" x2="226.10" y2="276.50" stroke="#33b0d4" stroke-width="1.1"/>
<circle cx="221.75" cy="276.80" r="1.80" fill="#33b0d4" stroke="none" stroke-width="0"/>
<text x="230.60" y="279.90" font-size="8.6" text-anchor="start" fill="#1e1e1e" stroke="#1e1e1e" stroke-width="0.12" textLength="37.50" lengthAdjust="spacingAndGlyphs">Y271A OE</text>
<line x1="382.50" y1="246.40" x2="382.50" y2="339.73" stroke="#1e1e1e" stroke-width="1.25"/>
<line x1="379.70" y1="248.50" x2="382.30" y2="248.50" stroke="#1e1e1e" stroke-width="1.25"/>
<text x="376.20" y="251.65" font-size="8.6" text-anchor="end" fill="#1e1e1e" stroke="#1e1e1e" stroke-width="0.12">80</text>
<line x1="379.70" y1="271.50" x2="382.30" y2="271.50" stroke="#1e1e1e" stroke-width="1.25"/>
<text x="376.20" y="274.25" font-size="8.6" text-anchor="end" fill="#1e1e1e" stroke="#1e1e1e" stroke-width="0.12">60</text>
<line x1="379.70" y1="293.50" x2="382.30" y2="293.50" stroke="#1e1e1e" stroke-width="1.25"/>
<text x="376.20" y="296.85" font-size="8.6" text-anchor="end" fill="#1e1e1e" stroke="#1e1e1e" stroke-width="0.12">40</text>
<line x1="379.70" y1="316.50" x2="382.30" y2="316.50" stroke="#1e1e1e" stroke-width="1.25"/>
<text x="376.20" y="319.45" font-size="8.6" text-anchor="end" fill="#1e1e1e" stroke="#1e1e1e" stroke-width="0.12">20</text>
<line x1="379.70" y1="339.50" x2="382.30" y2="339.50" stroke="#1e1e1e" stroke-width="1.25"/>
<text x="376.20" y="342.05" font-size="8.6" text-anchor="end" fill="#1e1e1e" stroke="#1e1e1e" stroke-width="0.12">0</text>
<line x1="378.48" y1="339.50" x2="508.50" y2="339.50" stroke="#1e1e1e" stroke-width="1.25"/>
<line x1="389.50" y1="339.10" x2="389.50" y2="341.70" stroke="#1e1e1e" stroke-width="1.25"/>
<line x1="401.50" y1="339.10" x2="401.50" y2="341.70" stroke="#1e1e1e" stroke-width="1.25"/>
<line x1="412.50" y1="339.10" x2="412.50" y2="341.70" stroke="#1e1e1e" stroke-width="1.25"/>
<line x1="424.50" y1="339.10" x2="424.50" y2="341.70" stroke="#1e1e1e" stroke-width="1.25"/>
<line x1="435.50" y1="339.10" x2="435.50" y2="341.70" stroke="#1e1e1e" stroke-width="1.25"/>
<line x1="447.50" y1="339.10" x2="447.50" y2="341.70" stroke="#1e1e1e" stroke-width="1.25"/>
<line x1="458.50" y1="339.10" x2="458.50" y2="341.70" stroke="#1e1e1e" stroke-width="1.25"/>
<line x1="469.50" y1="339.10" x2="469.50" y2="341.70" stroke="#1e1e1e" stroke-width="1.25"/>
<line x1="481.50" y1="339.10" x2="481.50" y2="341.70" stroke="#1e1e1e" stroke-width="1.25"/>
<line x1="492.50" y1="339.10" x2="492.50" y2="341.70" stroke="#1e1e1e" stroke-width="1.25"/>
<line x1="504.50" y1="339.10" x2="504.50" y2="341.70" stroke="#1e1e1e" stroke-width="1.25"/>
<text x="389.80" y="352.90" font-size="8.6" text-anchor="middle" fill="#1e1e1e" stroke="#1e1e1e" stroke-width="0.12">1</text>
<text x="401.25" y="352.90" font-size="8.6" text-anchor="middle" fill="#1e1e1e" stroke="#1e1e1e" stroke-width="0.12">2</text>
<text x="412.69" y="352.90" font-size="8.6" text-anchor="middle" fill="#1e1e1e" stroke="#1e1e1e" stroke-width="0.12">3</text>
<text x="424.13" y="352.90" font-size="8.6" text-anchor="middle" fill="#1e1e1e" stroke="#1e1e1e" stroke-width="0.12">4</text>
<text x="435.58" y="352.90" font-size="8.6" text-anchor="middle" fill="#1e1e1e" stroke="#1e1e1e" stroke-width="0.12">5</text>
<text x="447.03" y="352.90" font-size="8.6" text-anchor="middle" fill="#1e1e1e" stroke="#1e1e1e" stroke-width="0.12">6</text>
<text x="458.47" y="352.90" font-size="8.6" text-anchor="middle" fill="#1e1e1e" stroke="#1e1e1e" stroke-width="0.12">7</text>
<text x="469.92" y="352.90" font-size="8.6" text-anchor="middle" fill="#1e1e1e" stroke="#1e1e1e" stroke-width="0.12">8</text>
<text x="481.36" y="352.90" font-size="8.6" text-anchor="middle" fill="#1e1e1e" stroke="#1e1e1e" stroke-width="0.12">9</text>
<text x="492.81" y="352.90" font-size="8.6" text-anchor="middle" fill="#1e1e1e" stroke="#1e1e1e" stroke-width="0.12">10</text>
<text x="504.25" y="352.90" font-size="8.6" text-anchor="middle" fill="#1e1e1e" stroke="#1e1e1e" stroke-width="0.12">11</text>
<text x="447.75" y="365.60" font-size="9.6" text-anchor="middle" fill="#1e1e1e" stroke="#1e1e1e" stroke-width="0.12" textLength="48.00" lengthAdjust="spacingAndGlyphs">Maturation day</text>
<text x="361.70" y="292.20" font-size="8.6" text-anchor="middle" fill="#1e1e1e" stroke="#1e1e1e" stroke-width="0.12" textLength="69.20" lengthAdjust="spacingAndGlyphs" transform="rotate(-90 361.70 292.20)">Live fold amplification</text>
<path d="M389.80,338.60 L401.25,338.00 L435.58,331.20 L458.47,320.50 L481.36,317.00 L504.25,308.80" stroke="#34a24c" stroke-width="1.6" fill="none" stroke-linejoin="round"/>
<circle cx="389.80" cy="338.60" r="2.00" fill="#34a24c" stroke="none" stroke-width="0"/>
<circle cx="401.25" cy="338.00" r="2.00" fill="#34a24c" stroke="none" stroke-width="0"/>
<circle cx="435.58" cy="331.20" r="2.00" fill="#34a24c" stroke="none" stroke-width="0"/>
<circle cx="458.47" cy="320.50" r="2.00" fill="#34a24c" stroke="none" stroke-width="0"/>
<circle cx="481.36" cy="317.00" r="2.00" fill="#34a24c" stroke="none" stroke-width="0"/>
<circle cx="504.25" cy="308.80" r="2.00" fill="#34a24c" stroke="none" stroke-width="0"/>
<path d="M389.80,338.60 L401.25,338.00 L435.58,331.20 L458.47,319.50 L481.36,317.00 L504.25,308.80" stroke="#33b0d4" stroke-width="1.6" fill="none" stroke-linejoin="round"/>
<circle cx="389.80" cy="338.60" r="2.00" fill="#33b0d4" stroke="none" stroke-width="0"/>
<circle cx="401.25" cy="338.00" r="2.00" fill="#33b0d4" stroke="none" stroke-width="0"/>
<circle cx="435.58" cy="331.20" r="2.00" fill="#33b0d4" stroke="none" stroke-width="0"/>
<circle cx="458.47" cy="319.50" r="2.00" fill="#33b0d4" stroke="none" stroke-width="0"/>
<circle cx="481.36" cy="317.00" r="2.00" fill="#33b0d4" stroke="none" stroke-width="0"/>
<circle cx="504.25" cy="308.80" r="2.00" fill="#33b0d4" stroke="none" stroke-width="0"/>
<path d="M389.80,338.60 L401.25,336.20 L435.58,321.30 L458.47,289.80 L481.36,265.80 L504.25,259.00" stroke="#c0142f" stroke-width="1.6" fill="none" stroke-linejoin="round"/>
<circle cx="389.80" cy="338.60" r="2.00" fill="#c0142f" stroke="none" stroke-width="0"/>
<circle cx="401.25" cy="336.20" r="2.00" fill="#c0142f" stroke="none" stroke-width="0"/>
<circle cx="435.58" cy="321.30" r="2.00" fill="#c0142f" stroke="none" stroke-width="0"/>
<circle cx="458.47" cy="289.80" r="2.00" fill="#c0142f" stroke="none" stroke-width="0"/>
<circle cx="481.36" cy="265.80" r="2.00" fill="#c0142f" stroke="none" stroke-width="0"/>
<circle cx="504.25" cy="259.00" r="2.00" fill="#c0142f" stroke="none" stroke-width="0"/>
<line x1="458.50" y1="313.80" x2="458.50" y2="325.00" stroke="#555" stroke-width="1.0"/>
<line x1="456.97" y1="313.50" x2="459.97" y2="313.50" stroke="#555" stroke-width="1.0"/>
<line x1="456.97" y1="325.50" x2="459.97" y2="325.50" stroke="#555" stroke-width="1.0"/>
<line x1="481.50" y1="313.00" x2="481.50" y2="321.00" stroke="#555" stroke-width="1.0"/>
<line x1="479.86" y1="313.50" x2="482.86" y2="313.50" stroke="#555" stroke-width="1.0"/>
<line x1="479.86" y1="321.50" x2="482.86" y2="321.50" stroke="#555" stroke-width="1.0"/>
<line x1="504.50" y1="301.00" x2="504.50" y2="315.00" stroke="#555" stroke-width="1.0"/>
<line x1="502.75" y1="301.50" x2="505.75" y2="301.50" stroke="#555" stroke-width="1.0"/>
<line x1="502.75" y1="315.50" x2="505.75" y2="315.50" stroke="#555" stroke-width="1.0"/>
<line x1="458.50" y1="285.60" x2="458.50" y2="294.20" stroke="#555" stroke-width="1.0"/>
<line x1="456.97" y1="285.50" x2="459.97" y2="285.50" stroke="#555" stroke-width="1.0"/>
<line x1="456.97" y1="294.50" x2="459.97" y2="294.50" stroke="#555" stroke-width="1.0"/>
<line x1="481.50" y1="258.60" x2="481.50" y2="273.50" stroke="#555" stroke-width="1.0"/>
<line x1="479.86" y1="258.50" x2="482.86" y2="258.50" stroke="#555" stroke-width="1.0"/>
<line x1="479.86" y1="273.50" x2="482.86" y2="273.50" stroke="#555" stroke-width="1.0"/>
<line x1="390.50" y1="255.50" x2="400.00" y2="255.50" stroke="#34a24c" stroke-width="1.1"/>
<circle cx="395.25" cy="255.30" r="1.80" fill="#34a24c" stroke="none" stroke-width="0"/>
<text x="403.30" y="258.40" font-size="8.6" text-anchor="start" fill="#1e1e1e" stroke="#1e1e1e" stroke-width="0.12" textLength="9.80" lengthAdjust="spacingAndGlyphs">EV</text>
<line x1="390.50" y1="268.50" x2="400.00" y2="268.50" stroke="#c0142f" stroke-width="1.1"/>
<circle cx="395.25" cy="268.00" r="1.80" fill="#c0142f" stroke="none" stroke-width="0"/>
<text x="403.30" y="271.10" font-size="8.6" text-anchor="start" fill="#1e1e1e" stroke="#1e1e1e" stroke-width="0.12" textLength="45.50" lengthAdjust="spacingAndGlyphs">HEXIM1 OE</text>
<line x1="390.50" y1="280.50" x2="400.00" y2="280.50" stroke="#33b0d4" stroke-width="1.1"/>
<circle cx="395.25" cy="280.00" r="1.80" fill="#33b0d4" stroke="none" stroke-width="0"/>
<text x="403.30" y="283.10" font-size="8.6" text-anchor="start" fill="#1e1e1e" stroke="#1e1e1e" stroke-width="0.12" textLength="39.20" lengthAdjust="spacingAndGlyphs">Y271A OE</text>
<text x="8.60" y="414.60" font-size="12.0" text-anchor="start" fill="#111" stroke="#111" stroke-width="0.12" font-weight="bold">F</text>
<line x1="46.50" y1="424.00" x2="46.50" y2="519.33" stroke="#1e1e1e" stroke-width="1.25"/>
<line x1="43.50" y1="426.50" x2="46.10" y2="426.50" stroke="#1e1e1e" stroke-width="1.25"/>
<text x="39.80" y="429.47" font-size="8.6" text-anchor="end" fill="#1e1e1e" stroke="#1e1e1e" stroke-width="0.12">240</text>
<line x1="43.50" y1="449.50" x2="46.10" y2="449.50" stroke="#1e1e1e" stroke-width="1.25"/>
<text x="39.80" y="452.54" font-size="8.6" text-anchor="end" fill="#1e1e1e" stroke="#1e1e1e" stroke-width="0.12">220</text>
<line x1="43.50" y1="472.50" x2="46.10" y2="472.50" stroke="#1e1e1e" stroke-width="1.25"/>
<text x="39.80" y="475.61" font-size="8.6" text-anchor="end" fill="#1e1e1e" stroke="#1e1e1e" stroke-width="0.12">200</text>
<line x1="43.50" y1="495.50" x2="46.10" y2="495.50" stroke="#1e1e1e" stroke-width="1.25"/>
<text x="39.80" y="498.68" font-size="8.6" text-anchor="end" fill="#1e1e1e" stroke="#1e1e1e" stroke-width="0.12">180</text>
<line x1="43.50" y1="518.50" x2="46.10" y2="518.50" stroke="#1e1e1e" stroke-width="1.25"/>
<text x="39.80" y="521.75" font-size="8.6" text-anchor="end" fill="#1e1e1e" stroke="#1e1e1e" stroke-width="0.12">160</text>
<line x1="45.48" y1="518.50" x2="107.50" y2="518.50" stroke="#1e1e1e" stroke-width="1.25"/>
<line x1="58.50" y1="518.70" x2="58.50" y2="521.30" stroke="#1e1e1e" stroke-width="1.25"/>
<line x1="77.50" y1="518.70" x2="77.50" y2="521.30" stroke="#1e1e1e" stroke-width="1.25"/>
<line x1="95.50" y1="518.70" x2="95.50" y2="521.30" stroke="#1e1e1e" stroke-width="1.25"/>
<rect x="53.25" y="510.00" width="10.50" height="8.70" fill="#3aa935" stroke="none" stroke-width="0" rx="0"/>
<rect x="72.00" y="451.25" width="10.50" height="67.45" fill="#c8102e" stroke="none" stroke-width="0" rx="0"/>
<rect x="90.05" y="505.75" width="10.70" height="12.95" fill="#35a3dc" stroke="none" stroke-width="0" rx="0"/>
<line x1="58.50" y1="505.00" x2="58.50" y2="513.75" stroke="#1e1e1e" stroke-width="1.0"/>
<line x1="55.75" y1="505.50" x2="61.25" y2="505.50" stroke="#1e1e1e" stroke-width="1.0"/>
<line x1="55.75" y1="513.50" x2="61.25" y2="513.50" stroke="#1e1e1e" stroke-width="1.0"/>
<circle cx="58.50" cy="506.50" r="1.50" fill="#1e1e1e" stroke="none" stroke-width="0"/>
<circle cx="58.50" cy="511.50" r="1.50" fill="#1e1e1e" stroke="none" stroke-width="0"/>
<line x1="77.50" y1="438.75" x2="77.50" y2="460.00" stroke="#1e1e1e" stroke-width="1.0"/>
<line x1="74.50" y1="438.50" x2="80.00" y2="438.50" stroke="#1e1e1e" stroke-width="1.0"/>
<line x1="74.50" y1="460.50" x2="80.00" y2="460.50" stroke="#1e1e1e" stroke-width="1.0"/>
<circle cx="77.25" cy="450.50" r="1.50" fill="#1e1e1e" stroke="none" stroke-width="0"/>
<circle cx="77.25" cy="459.50" r="1.50" fill="#1e1e1e" stroke="none" stroke-width="0"/>
<line x1="95.50" y1="495.00" x2="95.50" y2="513.75" stroke="#1e1e1e" stroke-width="1.0"/>
<line x1="92.65" y1="495.50" x2="98.15" y2="495.50" stroke="#1e1e1e" stroke-width="1.0"/>
<line x1="92.65" y1="513.50" x2="98.15" y2="513.50" stroke="#1e1e1e" stroke-width="1.0"/>
<circle cx="95.40" cy="506.50" r="1.50" fill="#1e1e1e" stroke="none" stroke-width="0"/>
<circle cx="95.40" cy="512.50" r="1.50" fill="#1e1e1e" stroke="none" stroke-width="0"/>
<path d="M58.50,492.00 L58.50,427.50 L77.50,427.50 L77.50,434.60" stroke="#1e1e1e" stroke-width="1.0" fill="none"/>
<path d="M77.50,416.10 L77.50,411.50 L95.50,411.50 L95.50,472.50" stroke="#1e1e1e" stroke-width="1.0" fill="none"/>
<circle cx="64.35" cy="423.60" r="1.22" fill="#222"/>
<circle cx="67.90" cy="423.60" r="1.22" fill="#222"/>
<circle cx="71.45" cy="423.60" r="1.22" fill="#222"/>
<circle cx="82.75" cy="407.50" r="1.22" fill="#222"/>
<circle cx="86.30" cy="407.50" r="1.22" fill="#222"/>
<circle cx="89.85" cy="407.50" r="1.22" fill="#222"/>
<g transform="translate(20.20 471.40) rotate(-90) scale(0.8063 1)"><text x="0" y="0" font-size="8.6" text-anchor="middle" fill="#1e1e1e" stroke="#1e1e1e" stroke-width="0.12">Cell size (um<tspan dy="-3.27" font-size="5.85">2</tspan><tspan dy="3.27" font-size="8.6">)</tspan></text></g>
<text x="62.00" y="529.60" font-size="8.2" text-anchor="end" fill="#1e1e1e" stroke="#1e1e1e" stroke-width="0.12" textLength="8.20" lengthAdjust="spacingAndGlyphs" transform="rotate(-45 62.00 529.60)">EV</text>
<text x="80.80" y="529.60" font-size="8.2" text-anchor="end" fill="#1e1e1e" stroke="#1e1e1e" stroke-width="0.12" textLength="43.50" lengthAdjust="spacingAndGlyphs" transform="rotate(-45 80.80 529.60)">HEXIM1 OE</text>
<text x="99.00" y="529.60" font-size="8.2" text-anchor="end" fill="#1e1e1e" stroke="#1e1e1e" stroke-width="0.12" textLength="37.50" lengthAdjust="spacingAndGlyphs" transform="rotate(-45 99.00 529.60)">Y271A OE</text>
<line x1="153.50" y1="416.00" x2="153.50" y2="519.33" stroke="#1e1e1e" stroke-width="1.25"/>
<line x1="151.00" y1="418.50" x2="153.60" y2="418.50" stroke="#1e1e1e" stroke-width="1.25"/>
<text x="148.60" y="421.35" font-size="8.6" text-anchor="end" fill="#1e1e1e" stroke="#1e1e1e" stroke-width="0.12">105</text>
<line x1="151.00" y1="435.50" x2="153.60" y2="435.50" stroke="#1e1e1e" stroke-width="1.25"/>
<text x="148.60" y="438.05" font-size="8.6" text-anchor="end" fill="#1e1e1e" stroke="#1e1e1e" stroke-width="0.12">100</text>
<line x1="151.00" y1="451.50" x2="153.60" y2="451.50" stroke="#1e1e1e" stroke-width="1.25"/>
<text x="148.60" y="454.75" font-size="8.6" text-anchor="end" fill="#1e1e1e" stroke="#1e1e1e" stroke-width="0.12">95</text>
<line x1="151.00" y1="468.50" x2="153.60" y2="468.50" stroke="#1e1e1e" stroke-width="1.25"/>
<text x="148.60" y="471.45" font-size="8.6" text-anchor="end" fill="#1e1e1e" stroke="#1e1e1e" stroke-width="0.12">90</text>
<line x1="151.00" y1="485.50" x2="153.60" y2="485.50" stroke="#1e1e1e" stroke-width="1.25"/>
<text x="148.60" y="488.15" font-size="8.6" text-anchor="end" fill="#1e1e1e" stroke="#1e1e1e" stroke-width="0.12">85</text>
<line x1="151.00" y1="501.50" x2="153.60" y2="501.50" stroke="#1e1e1e" stroke-width="1.25"/>
<text x="148.60" y="504.85" font-size="8.6" text-anchor="end" fill="#1e1e1e" stroke="#1e1e1e" stroke-width="0.12">80</text>
<line x1="151.00" y1="518.50" x2="153.60" y2="518.50" stroke="#1e1e1e" stroke-width="1.25"/>
<text x="148.60" y="521.55" font-size="8.6" text-anchor="end" fill="#1e1e1e" stroke="#1e1e1e" stroke-width="0.12">75</text>
<line x1="152.97" y1="518.50" x2="220.00" y2="518.50" stroke="#1e1e1e" stroke-width="1.25"/>
<line x1="167.50" y1="518.70" x2="167.50" y2="521.30" stroke="#1e1e1e" stroke-width="1.25"/>
<line x1="187.50" y1="518.70" x2="187.50" y2="521.30" stroke="#1e1e1e" stroke-width="1.25"/>
<line x1="207.50" y1="518.70" x2="207.50" y2="521.30" stroke="#1e1e1e" stroke-width="1.25"/>
<rect x="161.75" y="493.25" width="11.50" height="25.45" fill="#3aa935" stroke="none" stroke-width="0" rx="0"/>
<rect x="181.25" y="438.75" width="12.00" height="79.95" fill="#c8102e" stroke="none" stroke-width="0" rx="0"/>
<rect x="201.25" y="489.25" width="11.70" height="29.45" fill="#35a3dc" stroke="none" stroke-width="0" rx="0"/>
<line x1="167.50" y1="478.00" x2="167.50" y2="505.00" stroke="#1e1e1e" stroke-width="1.0"/>
<line x1="164.50" y1="478.50" x2="170.50" y2="478.50" stroke="#1e1e1e" stroke-width="1.0"/>
<line x1="164.50" y1="505.50" x2="170.50" y2="505.50" stroke="#1e1e1e" stroke-width="1.0"/>
<circle cx="167.50" cy="478.50" r="1.50" fill="#1e1e1e" stroke="none" stroke-width="0"/>
<circle cx="167.50" cy="493.50" r="1.50" fill="#1e1e1e" stroke="none" stroke-width="0"/>
<circle cx="167.50" cy="504.50" r="1.50" fill="#1e1e1e" stroke="none" stroke-width="0"/>
<line x1="187.50" y1="435.00" x2="187.50" y2="440.00" stroke="#1e1e1e" stroke-width="1.0"/>
<line x1="184.25" y1="435.50" x2="190.25" y2="435.50" stroke="#1e1e1e" stroke-width="1.0"/>
<line x1="184.25" y1="440.50" x2="190.25" y2="440.50" stroke="#1e1e1e" stroke-width="1.0"/>
<circle cx="185.50" cy="435.50" r="1.50" fill="#1e1e1e" stroke="none" stroke-width="0"/>
<circle cx="189.50" cy="436.50" r="1.50" fill="#1e1e1e" stroke="none" stroke-width="0"/>
<circle cx="187.25" cy="440.00" r="1.50" fill="#1e1e1e" stroke="none" stroke-width="0"/>
<line x1="207.50" y1="474.25" x2="207.50" y2="505.00" stroke="#1e1e1e" stroke-width="1.0"/>
<line x1="204.00" y1="474.50" x2="210.00" y2="474.50" stroke="#1e1e1e" stroke-width="1.0"/>
<line x1="204.00" y1="505.50" x2="210.00" y2="505.50" stroke="#1e1e1e" stroke-width="1.0"/>
<circle cx="207.00" cy="477.50" r="1.50" fill="#1e1e1e" stroke="none" stroke-width="0"/>
<circle cx="207.00" cy="488.50" r="1.50" fill="#1e1e1e" stroke="none" stroke-width="0"/>
<circle cx="207.00" cy="504.50" r="1.50" fill="#1e1e1e" stroke="none" stroke-width="0"/>
<path d="M167.50,467.50 L167.50,419.50 L187.50,419.50 L187.50,431.70" stroke="#1e1e1e" stroke-width="1.0" fill="none"/>
<path d="M187.50,415.60 L187.50,410.50 L207.50,410.50 L207.50,470.50" stroke="#1e1e1e" stroke-width="1.0" fill="none"/>
<circle cx="175.92" cy="415.00" r="1.22" fill="#222"/>
<circle cx="179.47" cy="415.00" r="1.22" fill="#222"/>
<circle cx="195.72" cy="406.25" r="1.22" fill="#222"/>
<circle cx="199.28" cy="406.25" r="1.22" fill="#222"/>
<g transform="translate(127.50 467.60) rotate(-90) scale(0.8155 1)"><text x="0" y="0" font-size="8.6" text-anchor="middle" fill="#1e1e1e" stroke="#1e1e1e" stroke-width="0.12">Nuclear size (um<tspan dy="-3.27" font-size="5.85">2</tspan><tspan dy="3.27" font-size="8.6">)</tspan></text></g>
<text x="171.00" y="529.60" font-size="8.2" text-anchor="end" fill="#1e1e1e" stroke="#1e1e1e" stroke-width="0.12" textLength="8.20" lengthAdjust="spacingAndGlyphs" transform="rotate(-45 171.00 529.60)">EV</text>
<text x="190.80" y="529.60" font-size="8.2" text-anchor="end" fill="#1e1e1e" stroke="#1e1e1e" stroke-width="0.12" textLength="43.50" lengthAdjust="spacingAndGlyphs" transform="rotate(-45 190.80 529.60)">HEXIM1 OE</text>
<text x="210.60" y="529.60" font-size="8.2" text-anchor="end" fill="#1e1e1e" stroke="#1e1e1e" stroke-width="0.12" textLength="37.50" lengthAdjust="spacingAndGlyphs" transform="rotate(-45 210.60 529.60)">Y271A OE</text>
<line x1="262.50" y1="424.00" x2="262.50" y2="519.33" stroke="#1e1e1e" stroke-width="1.25"/>
<line x1="260.20" y1="427.50" x2="262.80" y2="427.50" stroke="#1e1e1e" stroke-width="1.25"/>
<text x="256.00" y="430.05" font-size="8.6" text-anchor="end" fill="#1e1e1e" stroke="#1e1e1e" stroke-width="0.12">25</text>
<line x1="260.20" y1="445.50" x2="262.80" y2="445.50" stroke="#1e1e1e" stroke-width="1.25"/>
<text x="256.00" y="448.35" font-size="8.6" text-anchor="end" fill="#1e1e1e" stroke="#1e1e1e" stroke-width="0.12">20</text>
<line x1="260.20" y1="463.50" x2="262.80" y2="463.50" stroke="#1e1e1e" stroke-width="1.25"/>
<text x="256.00" y="466.65" font-size="8.6" text-anchor="end" fill="#1e1e1e" stroke="#1e1e1e" stroke-width="0.12">15</text>
<line x1="260.20" y1="481.50" x2="262.80" y2="481.50" stroke="#1e1e1e" stroke-width="1.25"/>
<text x="256.00" y="484.95" font-size="8.6" text-anchor="end" fill="#1e1e1e" stroke="#1e1e1e" stroke-width="0.12">10</text>
<line x1="260.20" y1="500.50" x2="262.80" y2="500.50" stroke="#1e1e1e" stroke-width="1.25"/>
<text x="256.00" y="503.25" font-size="8.6" text-anchor="end" fill="#1e1e1e" stroke="#1e1e1e" stroke-width="0.12">5</text>
<line x1="260.20" y1="518.50" x2="262.80" y2="518.50" stroke="#1e1e1e" stroke-width="1.25"/>
<text x="256.00" y="521.55" font-size="8.6" text-anchor="end" fill="#1e1e1e" stroke="#1e1e1e" stroke-width="0.12">0</text>
<line x1="262.18" y1="518.50" x2="323.75" y2="518.50" stroke="#1e1e1e" stroke-width="1.25"/>
<line x1="274.50" y1="518.70" x2="274.50" y2="521.30" stroke="#1e1e1e" stroke-width="1.25"/>
<line x1="293.50" y1="518.70" x2="293.50" y2="521.30" stroke="#1e1e1e" stroke-width="1.25"/>
<line x1="311.50" y1="518.70" x2="311.50" y2="521.30" stroke="#1e1e1e" stroke-width="1.25"/>
<rect x="269.23" y="509.50" width="10.75" height="9.20" fill="#3aa935" stroke="none" stroke-width="0" rx="0"/>
<rect x="288.00" y="445.00" width="10.00" height="73.70" fill="#c8102e" stroke="none" stroke-width="0" rx="0"/>
<rect x="306.23" y="506.25" width="10.75" height="12.45" fill="#35a3dc" stroke="none" stroke-width="0" rx="0"/>
<line x1="274.50" y1="507.50" x2="274.50" y2="511.00" stroke="#1e1e1e" stroke-width="1.0"/>
<line x1="272.10" y1="507.50" x2="277.10" y2="507.50" stroke="#1e1e1e" stroke-width="1.0"/>
<line x1="272.10" y1="511.50" x2="277.10" y2="511.50" stroke="#1e1e1e" stroke-width="1.0"/>
<circle cx="271.50" cy="508.50" r="1.50" fill="#1e1e1e" stroke="none" stroke-width="0"/>
<circle cx="277.50" cy="508.50" r="1.50" fill="#1e1e1e" stroke="none" stroke-width="0"/>
<circle cx="274.60" cy="510.50" r="1.50" fill="#1e1e1e" stroke="none" stroke-width="0"/>
<line x1="293.50" y1="438.00" x2="293.50" y2="448.75" stroke="#1e1e1e" stroke-width="1.0"/>
<line x1="290.50" y1="438.50" x2="295.50" y2="438.50" stroke="#1e1e1e" stroke-width="1.0"/>
<line x1="290.50" y1="448.50" x2="295.50" y2="448.50" stroke="#1e1e1e" stroke-width="1.0"/>
<circle cx="293.00" cy="441.50" r="1.50" fill="#1e1e1e" stroke="none" stroke-width="0"/>
<circle cx="293.00" cy="446.00" r="1.50" fill="#1e1e1e" stroke="none" stroke-width="0"/>
<line x1="311.50" y1="497.00" x2="311.50" y2="512.00" stroke="#1e1e1e" stroke-width="1.0"/>
<line x1="309.10" y1="497.50" x2="314.10" y2="497.50" stroke="#1e1e1e" stroke-width="1.0"/>
<line x1="309.10" y1="512.50" x2="314.10" y2="512.50" stroke="#1e1e1e" stroke-width="1.0"/>
<circle cx="311.60" cy="497.50" r="1.50" fill="#1e1e1e" stroke="none" stroke-width="0"/>
<circle cx="309.50" cy="509.00" r="1.50" fill="#1e1e1e" stroke="none" stroke-width="0"/>
<circle cx="313.50" cy="509.00" r="1.50" fill="#1e1e1e" stroke="none" stroke-width="0"/>
<path d="M274.50,497.00 L274.50,424.50 L293.50,424.50 L293.50,433.40" stroke="#1e1e1e" stroke-width="1.0" fill="none"/>
<path d="M293.50,413.30 L293.50,408.50 L311.50,408.50 L311.50,486.25" stroke="#1e1e1e" stroke-width="1.0" fill="none"/>
<circle cx="278.78" cy="420.80" r="1.22" fill="#222"/>
<circle cx="282.33" cy="420.80" r="1.22" fill="#222"/>
<circle cx="285.88" cy="420.80" r="1.22" fill="#222"/>
<circle cx="289.43" cy="420.80" r="1.22" fill="#222"/>
<circle cx="297.18" cy="404.40" r="1.22" fill="#222"/>
<circle cx="300.73" cy="404.40" r="1.22" fill="#222"/>
<circle cx="304.28" cy="404.40" r="1.22" fill="#222"/>
<circle cx="307.82" cy="404.40" r="1.22" fill="#222"/>
<g transform="translate(241.00 471.90) rotate(-90) scale(0.7903 1)"><text x="0" y="0" font-size="8.6" text-anchor="middle" fill="#1e1e1e" stroke="#1e1e1e" stroke-width="0.12">CD235a MFI × 10<tspan dy="-3.27" font-size="5.85">4</tspan></text></g>
<text x="278.00" y="529.60" font-size="8.2" text-anchor="end" fill="#1e1e1e" stroke="#1e1e1e" stroke-width="0.12" textLength="8.20" lengthAdjust="spacingAndGlyphs" transform="rotate(-45 278.00 529.60)">EV</text>
<text x="296.50" y="529.60" font-size="8.2" text-anchor="end" fill="#1e1e1e" stroke="#1e1e1e" stroke-width="0.12" textLength="43.50" lengthAdjust="spacingAndGlyphs" transform="rotate(-45 296.50 529.60)">HEXIM1 OE</text>
<text x="315.00" y="529.60" font-size="8.2" text-anchor="end" fill="#1e1e1e" stroke="#1e1e1e" stroke-width="0.12" textLength="37.50" lengthAdjust="spacingAndGlyphs" transform="rotate(-45 315.00 529.60)">Y271A OE</text>
<text x="341.20" y="415.60" font-size="12.0" text-anchor="start" fill="#111" stroke="#111" stroke-width="0.12" font-weight="bold">G</text>
<line x1="381.50" y1="415.90" x2="381.50" y2="514.42" stroke="#1e1e1e" stroke-width="1.25"/>
<line x1="379.30" y1="416.50" x2="381.90" y2="416.50" stroke="#1e1e1e" stroke-width="1.25"/>
<text x="376.10" y="419.95" font-size="8.6" text-anchor="end" fill="#1e1e1e" stroke="#1e1e1e" stroke-width="0.12">80</text>
<line x1="379.30" y1="441.50" x2="381.90" y2="441.50" stroke="#1e1e1e" stroke-width="1.25"/>
<text x="376.10" y="444.20" font-size="8.6" text-anchor="end" fill="#1e1e1e" stroke="#1e1e1e" stroke-width="0.12">60</text>
<line x1="379.30" y1="465.50" x2="381.90" y2="465.50" stroke="#1e1e1e" stroke-width="1.25"/>
<text x="376.10" y="468.45" font-size="8.6" text-anchor="end" fill="#1e1e1e" stroke="#1e1e1e" stroke-width="0.12">40</text>
<line x1="379.30" y1="489.50" x2="381.90" y2="489.50" stroke="#1e1e1e" stroke-width="1.25"/>
<text x="376.10" y="492.70" font-size="8.6" text-anchor="end" fill="#1e1e1e" stroke="#1e1e1e" stroke-width="0.12">20</text>
<line x1="379.30" y1="513.50" x2="381.90" y2="513.50" stroke="#1e1e1e" stroke-width="1.25"/>
<text x="376.10" y="516.95" font-size="8.6" text-anchor="end" fill="#1e1e1e" stroke="#1e1e1e" stroke-width="0.12">0</text>
<line x1="378.38" y1="513.50" x2="511.00" y2="513.50" stroke="#1e1e1e" stroke-width="1.25"/>
<line x1="389.50" y1="513.80" x2="389.50" y2="516.40" stroke="#1e1e1e" stroke-width="1.25"/>
<line x1="400.50" y1="513.80" x2="400.50" y2="516.40" stroke="#1e1e1e" stroke-width="1.25"/>
<line x1="412.50" y1="513.80" x2="412.50" y2="516.40" stroke="#1e1e1e" stroke-width="1.25"/>
<line x1="424.50" y1="513.80" x2="424.50" y2="516.40" stroke="#1e1e1e" stroke-width="1.25"/>
<line x1="435.50" y1="513.80" x2="435.50" y2="516.40" stroke="#1e1e1e" stroke-width="1.25"/>
<line x1="447.50" y1="513.80" x2="447.50" y2="516.40" stroke="#1e1e1e" stroke-width="1.25"/>
<line x1="458.50" y1="513.80" x2="458.50" y2="516.40" stroke="#1e1e1e" stroke-width="1.25"/>
<line x1="470.50" y1="513.80" x2="470.50" y2="516.40" stroke="#1e1e1e" stroke-width="1.25"/>
<line x1="481.50" y1="513.80" x2="481.50" y2="516.40" stroke="#1e1e1e" stroke-width="1.25"/>
<line x1="493.50" y1="513.80" x2="493.50" y2="516.40" stroke="#1e1e1e" stroke-width="1.25"/>
<line x1="505.50" y1="513.80" x2="505.50" y2="516.40" stroke="#1e1e1e" stroke-width="1.25"/>
<text x="389.40" y="527.80" font-size="8.6" text-anchor="middle" fill="#1e1e1e" stroke="#1e1e1e" stroke-width="0.12">0</text>
<text x="400.96" y="527.80" font-size="8.6" text-anchor="middle" fill="#1e1e1e" stroke="#1e1e1e" stroke-width="0.12">1</text>
<text x="412.52" y="527.80" font-size="8.6" text-anchor="middle" fill="#1e1e1e" stroke="#1e1e1e" stroke-width="0.12">2</text>
<text x="424.08" y="527.80" font-size="8.6" text-anchor="middle" fill="#1e1e1e" stroke="#1e1e1e" stroke-width="0.12">3</text>
<text x="435.64" y="527.80" font-size="8.6" text-anchor="middle" fill="#1e1e1e" stroke="#1e1e1e" stroke-width="0.12">4</text>
<text x="447.20" y="527.80" font-size="8.6" text-anchor="middle" fill="#1e1e1e" stroke="#1e1e1e" stroke-width="0.12">5</text>
<text x="458.76" y="527.80" font-size="8.6" text-anchor="middle" fill="#1e1e1e" stroke="#1e1e1e" stroke-width="0.12">6</text>
<text x="470.32" y="527.80" font-size="8.6" text-anchor="middle" fill="#1e1e1e" stroke="#1e1e1e" stroke-width="0.12">7</text>
<text x="481.88" y="527.80" font-size="8.6" text-anchor="middle" fill="#1e1e1e" stroke="#1e1e1e" stroke-width="0.12">8</text>
<text x="493.44" y="527.80" font-size="8.6" text-anchor="middle" fill="#1e1e1e" stroke="#1e1e1e" stroke-width="0.12">9</text>
<text x="505.00" y="527.80" font-size="8.6" text-anchor="middle" fill="#1e1e1e" stroke="#1e1e1e" stroke-width="0.12">10</text>
<text x="447.50" y="541.50" font-size="9.6" text-anchor="middle" fill="#1e1e1e" stroke="#1e1e1e" stroke-width="0.12" textLength="47.50" lengthAdjust="spacingAndGlyphs">Maturation day</text>
<text x="360.10" y="464.70" font-size="8.6" text-anchor="middle" fill="#1e1e1e" stroke="#1e1e1e" stroke-width="0.12" textLength="60.70" lengthAdjust="spacingAndGlyphs" transform="rotate(-90 360.10 464.70)">Live fold expansion</text>
<path d="M389.40,513.50 L400.96,513.50 L424.08,509.25 L458.76,495.00 L505.00,480.50" stroke="#34a24c" stroke-width="1.3" fill="none" stroke-dasharray="2.2 1.4" stroke-linejoin="round"/>
<circle cx="389.40" cy="513.50" r="2.00" fill="#34a24c" stroke="none" stroke-width="0"/>
<circle cx="400.96" cy="513.50" r="2.00" fill="#34a24c" stroke="none" stroke-width="0"/>
<circle cx="424.08" cy="509.25" r="2.00" fill="#34a24c" stroke="none" stroke-width="0"/>
<circle cx="458.76" cy="495.00" r="2.00" fill="#34a24c" stroke="none" stroke-width="0"/>
<circle cx="505.00" cy="480.50" r="2.00" fill="#34a24c" stroke="none" stroke-width="0"/>
<path d="M389.40,513.50 L400.96,513.50 L424.08,509.25 L458.76,499.50 L505.00,477.50" stroke="#33b0d4" stroke-width="1.3" fill="none" stroke-dasharray="2.2 1.4" stroke-linejoin="round"/>
<circle cx="389.40" cy="513.50" r="2.00" fill="#33b0d4" stroke="none" stroke-width="0"/>
<circle cx="400.96" cy="513.50" r="2.00" fill="#33b0d4" stroke="none" stroke-width="0"/>
<circle cx="424.08" cy="509.25" r="2.00" fill="#33b0d4" stroke="none" stroke-width="0"/>
<circle cx="458.76" cy="499.50" r="2.00" fill="#33b0d4" stroke="none" stroke-width="0"/>
<circle cx="505.00" cy="477.50" r="2.00" fill="#33b0d4" stroke="none" stroke-width="0"/>
<path d="M389.40,513.50 L400.96,511.25 L424.08,501.25 L458.76,475.50 L505.00,430.00" stroke="#c0142f" stroke-width="1.3" fill="none" stroke-dasharray="2.2 1.4" stroke-linejoin="round"/>
<circle cx="389.40" cy="513.50" r="2.00" fill="#c0142f" stroke="none" stroke-width="0"/>
<circle cx="400.96" cy="511.25" r="2.00" fill="#c0142f" stroke="none" stroke-width="0"/>
<circle cx="424.08" cy="501.25" r="2.00" fill="#c0142f" stroke="none" stroke-width="0"/>
<circle cx="458.76" cy="475.50" r="2.00" fill="#c0142f" stroke="none" stroke-width="0"/>
<circle cx="505.00" cy="430.00" r="2.00" fill="#c0142f" stroke="none" stroke-width="0"/>
<line x1="458.50" y1="491.25" x2="458.50" y2="498.75" stroke="#555" stroke-width="1.0"/>
<line x1="457.26" y1="491.50" x2="460.26" y2="491.50" stroke="#555" stroke-width="1.0"/>
<line x1="457.26" y1="498.50" x2="460.26" y2="498.50" stroke="#555" stroke-width="1.0"/>
<line x1="458.50" y1="496.50" x2="458.50" y2="504.00" stroke="#555" stroke-width="1.0"/>
<line x1="457.26" y1="496.50" x2="460.26" y2="496.50" stroke="#555" stroke-width="1.0"/>
<line x1="457.26" y1="504.50" x2="460.26" y2="504.50" stroke="#555" stroke-width="1.0"/>
<line x1="505.50" y1="465.50" x2="505.50" y2="488.75" stroke="#555" stroke-width="1.0"/>
<line x1="503.50" y1="465.50" x2="506.50" y2="465.50" stroke="#555" stroke-width="1.0"/>
<line x1="503.50" y1="488.50" x2="506.50" y2="488.50" stroke="#555" stroke-width="1.0"/>
<line x1="505.50" y1="427.00" x2="505.50" y2="433.00" stroke="#555" stroke-width="1.0"/>
<line x1="503.50" y1="427.50" x2="506.50" y2="427.50" stroke="#555" stroke-width="1.0"/>
<line x1="503.50" y1="433.50" x2="506.50" y2="433.50" stroke="#555" stroke-width="1.0"/>
<line x1="390.50" y1="425.50" x2="400.00" y2="425.50" stroke="#34a24c" stroke-width="1.1" stroke-dasharray="2 1.3"/>
<circle cx="395.25" cy="425.00" r="1.80" fill="#34a24c" stroke="none" stroke-width="0"/>
<text x="403.30" y="428.10" font-size="8.6" text-anchor="start" fill="#1e1e1e" stroke="#1e1e1e" stroke-width="0.12" textLength="28.00" lengthAdjust="spacingAndGlyphs">KD+EV</text>
<line x1="390.50" y1="437.50" x2="400.00" y2="437.50" stroke="#c0142f" stroke-width="1.1" stroke-dasharray="2 1.3"/>
<circle cx="395.25" cy="437.50" r="1.80" fill="#c0142f" stroke="none" stroke-width="0"/>
<text x="403.30" y="440.60" font-size="8.6" text-anchor="start" fill="#1e1e1e" stroke="#1e1e1e" stroke-width="0.12" textLength="48.00" lengthAdjust="spacingAndGlyphs">KD+HEXIM1</text>
<line x1="390.50" y1="450.50" x2="400.00" y2="450.50" stroke="#33b0d4" stroke-width="1.1" stroke-dasharray="2 1.3"/>
<circle cx="395.25" cy="450.00" r="1.80" fill="#33b0d4" stroke="none" stroke-width="0"/>
<text x="403.30" y="453.10" font-size="8.6" text-anchor="start" fill="#1e1e1e" stroke="#1e1e1e" stroke-width="0.12" textLength="43.00" lengthAdjust="spacingAndGlyphs">KD+Y271A</text>
<text x="152.00" y="587.20" font-size="12.0" text-anchor="start" fill="#111" stroke="#111" stroke-width="0.12" font-weight="bold">H</text>
<line x1="175.50" y1="602.50" x2="175.50" y2="692.83" stroke="#1e1e1e" stroke-width="1.25"/>
<line x1="172.40" y1="605.50" x2="175.00" y2="605.50" stroke="#1e1e1e" stroke-width="1.25"/>
<text x="168.70" y="608.67" font-size="8.6" text-anchor="end" fill="#1e1e1e" stroke="#1e1e1e" stroke-width="0.12">8</text>
<line x1="172.40" y1="627.50" x2="175.00" y2="627.50" stroke="#1e1e1e" stroke-width="1.25"/>
<text x="168.70" y="630.29" font-size="8.6" text-anchor="end" fill="#1e1e1e" stroke="#1e1e1e" stroke-width="0.12">6</text>
<line x1="172.40" y1="648.50" x2="175.00" y2="648.50" stroke="#1e1e1e" stroke-width="1.25"/>
<text x="168.70" y="651.91" font-size="8.6" text-anchor="end" fill="#1e1e1e" stroke="#1e1e1e" stroke-width="0.12">4</text>
<line x1="172.40" y1="670.50" x2="175.00" y2="670.50" stroke="#1e1e1e" stroke-width="1.25"/>
<text x="168.70" y="673.53" font-size="8.6" text-anchor="end" fill="#1e1e1e" stroke="#1e1e1e" stroke-width="0.12">2</text>
<line x1="172.40" y1="692.50" x2="175.00" y2="692.50" stroke="#1e1e1e" stroke-width="1.25"/>
<text x="168.70" y="695.15" font-size="8.6" text-anchor="end" fill="#1e1e1e" stroke="#1e1e1e" stroke-width="0.12">0</text>
<line x1="174.38" y1="692.50" x2="243.75" y2="692.50" stroke="#1e1e1e" stroke-width="1.25"/>
<line x1="189.50" y1="692.20" x2="189.50" y2="694.80" stroke="#1e1e1e" stroke-width="1.25"/>
<line x1="210.50" y1="692.20" x2="210.50" y2="694.80" stroke="#1e1e1e" stroke-width="1.25"/>
<line x1="230.50" y1="692.20" x2="230.50" y2="694.80" stroke="#1e1e1e" stroke-width="1.25"/>
<rect x="183.00" y="687.00" width="13.20" height="5.20" fill="#3aa935" stroke="none" stroke-width="0" rx="0"/>
<rect x="203.75" y="635.50" width="12.50" height="56.70" fill="#c8102e" stroke="none" stroke-width="0" rx="0"/>
<rect x="224.30" y="645.00" width="13.20" height="47.20" fill="#35a3dc" stroke="none" stroke-width="0" rx="0"/>
<circle cx="185.50" cy="686.50" r="1.50" fill="#1e1e1e" stroke="none" stroke-width="0"/>
<circle cx="189.60" cy="686.00" r="1.50" fill="#1e1e1e" stroke="none" stroke-width="0"/>
<circle cx="193.70" cy="686.80" r="1.50" fill="#1e1e1e" stroke="none" stroke-width="0"/>
<line x1="210.50" y1="629.25" x2="210.50" y2="641.00" stroke="#1e1e1e" stroke-width="1.0"/>
<line x1="207.00" y1="629.50" x2="213.00" y2="629.50" stroke="#1e1e1e" stroke-width="1.0"/>
<line x1="207.00" y1="641.50" x2="213.00" y2="641.50" stroke="#1e1e1e" stroke-width="1.0"/>
<circle cx="210.00" cy="630.50" r="1.50" fill="#1e1e1e" stroke="none" stroke-width="0"/>
<circle cx="210.00" cy="636.50" r="1.50" fill="#1e1e1e" stroke="none" stroke-width="0"/>
<circle cx="210.00" cy="640.50" r="1.50" fill="#1e1e1e" stroke="none" stroke-width="0"/>
<line x1="230.50" y1="622.00" x2="230.50" y2="665.75" stroke="#1e1e1e" stroke-width="1.0"/>
<line x1="227.65" y1="622.50" x2="234.15" y2="622.50" stroke="#1e1e1e" stroke-width="1.0"/>
<line x1="227.65" y1="665.50" x2="234.15" y2="665.50" stroke="#1e1e1e" stroke-width="1.0"/>
<circle cx="230.90" cy="618.75" r="1.50" fill="#1e1e1e" stroke="none" stroke-width="0"/>
<circle cx="230.90" cy="655.00" r="1.50" fill="#1e1e1e" stroke="none" stroke-width="0"/>
<circle cx="230.90" cy="658.75" r="1.50" fill="#1e1e1e" stroke="none" stroke-width="0"/>
<path d="M189.50,662.50 L189.50,603.50 L210.50,603.50 L210.50,607.30" stroke="#1e1e1e" stroke-width="1.0" fill="none"/>
<path d="M210.50,593.50 L210.50,586.50 L230.50,586.50 L230.50,603.30" stroke="#1e1e1e" stroke-width="1.0" fill="none"/>
<circle cx="194.28" cy="598.90" r="1.22" fill="#222"/>
<circle cx="197.83" cy="598.90" r="1.22" fill="#222"/>
<circle cx="201.38" cy="598.90" r="1.22" fill="#222"/>
<circle cx="204.93" cy="598.90" r="1.22" fill="#222"/>
<text x="220.40" y="583.60" font-size="7.8" text-anchor="middle" fill="#1e1e1e" stroke="#1e1e1e" stroke-width="0.12" textLength="7.80" lengthAdjust="spacingAndGlyphs">ns</text>
<text x="157.90" y="647.90" font-size="8.4" text-anchor="middle" fill="#1e1e1e" stroke="#1e1e1e" stroke-width="0.12" textLength="81.80" lengthAdjust="spacingAndGlyphs" transform="rotate(-90 157.90 647.90)">HEXIM1 mRNA expression</text>
<text x="193.50" y="703.50" font-size="8.2" text-anchor="end" fill="#1e1e1e" stroke="#1e1e1e" stroke-width="0.12" textLength="8.20" lengthAdjust="spacingAndGlyphs" transform="rotate(-45 193.50 703.50)">EV</text>
<text x="214.00" y="703.50" font-size="8.2" text-anchor="end" fill="#1e1e1e" stroke="#1e1e1e" stroke-width="0.12" textLength="43.50" lengthAdjust="spacingAndGlyphs" transform="rotate(-45 214.00 703.50)">HEXIM1 OE</text>
<text x="234.80" y="703.50" font-size="8.2" text-anchor="end" fill="#1e1e1e" stroke="#1e1e1e" stroke-width="0.12" textLength="37.50" lengthAdjust="spacingAndGlyphs" transform="rotate(-45 234.80 703.50)">Y271A OE</text>
<text x="279.30" y="587.00" font-size="12.0" text-anchor="start" fill="#111" stroke="#111" stroke-width="0.12" font-weight="bold">I</text>
<line x1="303.50" y1="600.50" x2="303.50" y2="692.83" stroke="#1e1e1e" stroke-width="1.25"/>
<line x1="301.10" y1="603.50" x2="303.70" y2="603.50" stroke="#1e1e1e" stroke-width="1.25"/>
<text x="297.70" y="606.76" font-size="8.6" text-anchor="end" fill="#1e1e1e" stroke="#1e1e1e" stroke-width="0.12">15</text>
<line x1="301.10" y1="633.50" x2="303.70" y2="633.50" stroke="#1e1e1e" stroke-width="1.25"/>
<text x="297.70" y="636.22" font-size="8.6" text-anchor="end" fill="#1e1e1e" stroke="#1e1e1e" stroke-width="0.12">10</text>
<line x1="301.10" y1="662.50" x2="303.70" y2="662.50" stroke="#1e1e1e" stroke-width="1.25"/>
<text x="297.70" y="665.69" font-size="8.6" text-anchor="end" fill="#1e1e1e" stroke="#1e1e1e" stroke-width="0.12">5</text>
<line x1="301.10" y1="692.50" x2="303.70" y2="692.50" stroke="#1e1e1e" stroke-width="1.25"/>
<text x="297.70" y="695.15" font-size="8.6" text-anchor="end" fill="#1e1e1e" stroke="#1e1e1e" stroke-width="0.12">0</text>
<line x1="302.62" y1="692.50" x2="372.50" y2="692.50" stroke="#1e1e1e" stroke-width="1.25"/>
<line x1="317.50" y1="692.20" x2="317.50" y2="694.80" stroke="#1e1e1e" stroke-width="1.25"/>
<line x1="338.50" y1="692.20" x2="338.50" y2="694.80" stroke="#1e1e1e" stroke-width="1.25"/>
<line x1="359.50" y1="692.20" x2="359.50" y2="694.80" stroke="#1e1e1e" stroke-width="1.25"/>
<rect x="311.25" y="663.75" width="12.50" height="28.45" fill="#3aa935" stroke="none" stroke-width="0" rx="0"/>
<rect x="332.50" y="624.50" width="12.50" height="67.70" fill="#c8102e" stroke="none" stroke-width="0" rx="0"/>
<rect x="353.25" y="675.00" width="12.50" height="17.20" fill="#35a3dc" stroke="none" stroke-width="0" rx="0"/>
<line x1="317.50" y1="652.50" x2="317.50" y2="675.00" stroke="#1e1e1e" stroke-width="1.0"/>
<line x1="314.50" y1="652.50" x2="320.50" y2="652.50" stroke="#1e1e1e" stroke-width="1.0"/>
<line x1="314.50" y1="675.50" x2="320.50" y2="675.50" stroke="#1e1e1e" stroke-width="1.0"/>
<circle cx="315.00" cy="655.50" r="1.50" fill="#1e1e1e" stroke="none" stroke-width="0"/>
<circle cx="320.00" cy="655.50" r="1.50" fill="#1e1e1e" stroke="none" stroke-width="0"/>
<circle cx="317.50" cy="674.00" r="1.50" fill="#1e1e1e" stroke="none" stroke-width="0"/>
<line x1="338.50" y1="609.50" x2="338.50" y2="638.75" stroke="#1e1e1e" stroke-width="1.0"/>
<line x1="335.75" y1="609.50" x2="341.75" y2="609.50" stroke="#1e1e1e" stroke-width="1.0"/>
<line x1="335.75" y1="638.50" x2="341.75" y2="638.50" stroke="#1e1e1e" stroke-width="1.0"/>
<circle cx="338.75" cy="621.00" r="1.50" fill="#1e1e1e" stroke="none" stroke-width="0"/>
<circle cx="338.75" cy="638.00" r="1.50" fill="#1e1e1e" stroke="none" stroke-width="0"/>
<line x1="359.50" y1="668.25" x2="359.50" y2="680.00" stroke="#1e1e1e" stroke-width="1.0"/>
<line x1="356.50" y1="668.50" x2="362.50" y2="668.50" stroke="#1e1e1e" stroke-width="1.0"/>
<line x1="356.50" y1="680.50" x2="362.50" y2="680.50" stroke="#1e1e1e" stroke-width="1.0"/>
<circle cx="359.50" cy="669.00" r="1.50" fill="#1e1e1e" stroke="none" stroke-width="0"/>
<circle cx="359.50" cy="674.00" r="1.50" fill="#1e1e1e" stroke="none" stroke-width="0"/>
<path d="M317.50,640.00 L317.50,601.50 L338.50,601.50 L338.50,605.00" stroke="#1e1e1e" stroke-width="1.0" fill="none"/>
<path d="M338.50,597.00 L338.50,585.50 L360.50,585.50 L360.50,602.00" stroke="#1e1e1e" stroke-width="1.0" fill="none"/>
<circle cx="328.00" cy="596.25" r="1.22" fill="#222"/>
<circle cx="347.62" cy="580.50" r="1.22" fill="#222"/>
<circle cx="351.18" cy="580.50" r="1.22" fill="#222"/>
<text x="282.50" y="646.70" font-size="8.6" text-anchor="middle" fill="#1e1e1e" stroke="#1e1e1e" stroke-width="0.12" textLength="61.70" lengthAdjust="spacingAndGlyphs" transform="rotate(-90 282.50 646.70)">Number of colonies</text>
<text x="321.00" y="703.50" font-size="8.2" text-anchor="end" fill="#1e1e1e" stroke="#1e1e1e" stroke-width="0.12" textLength="8.20" lengthAdjust="spacingAndGlyphs" transform="rotate(-45 321.00 703.50)">EV</text>
<text x="342.30" y="703.50" font-size="8.2" text-anchor="end" fill="#1e1e1e" stroke="#1e1e1e" stroke-width="0.12" textLength="43.50" lengthAdjust="spacingAndGlyphs" transform="rotate(-45 342.30 703.50)">HEXIM1 OE</text>
<text x="363.00" y="703.50" font-size="8.2" text-anchor="end" fill="#1e1e1e" stroke="#1e1e1e" stroke-width="0.12" textLength="37.50" lengthAdjust="spacingAndGlyphs" transform="rotate(-45 363.00 703.50)">Y271A OE</text>
</svg>
</body></html>
